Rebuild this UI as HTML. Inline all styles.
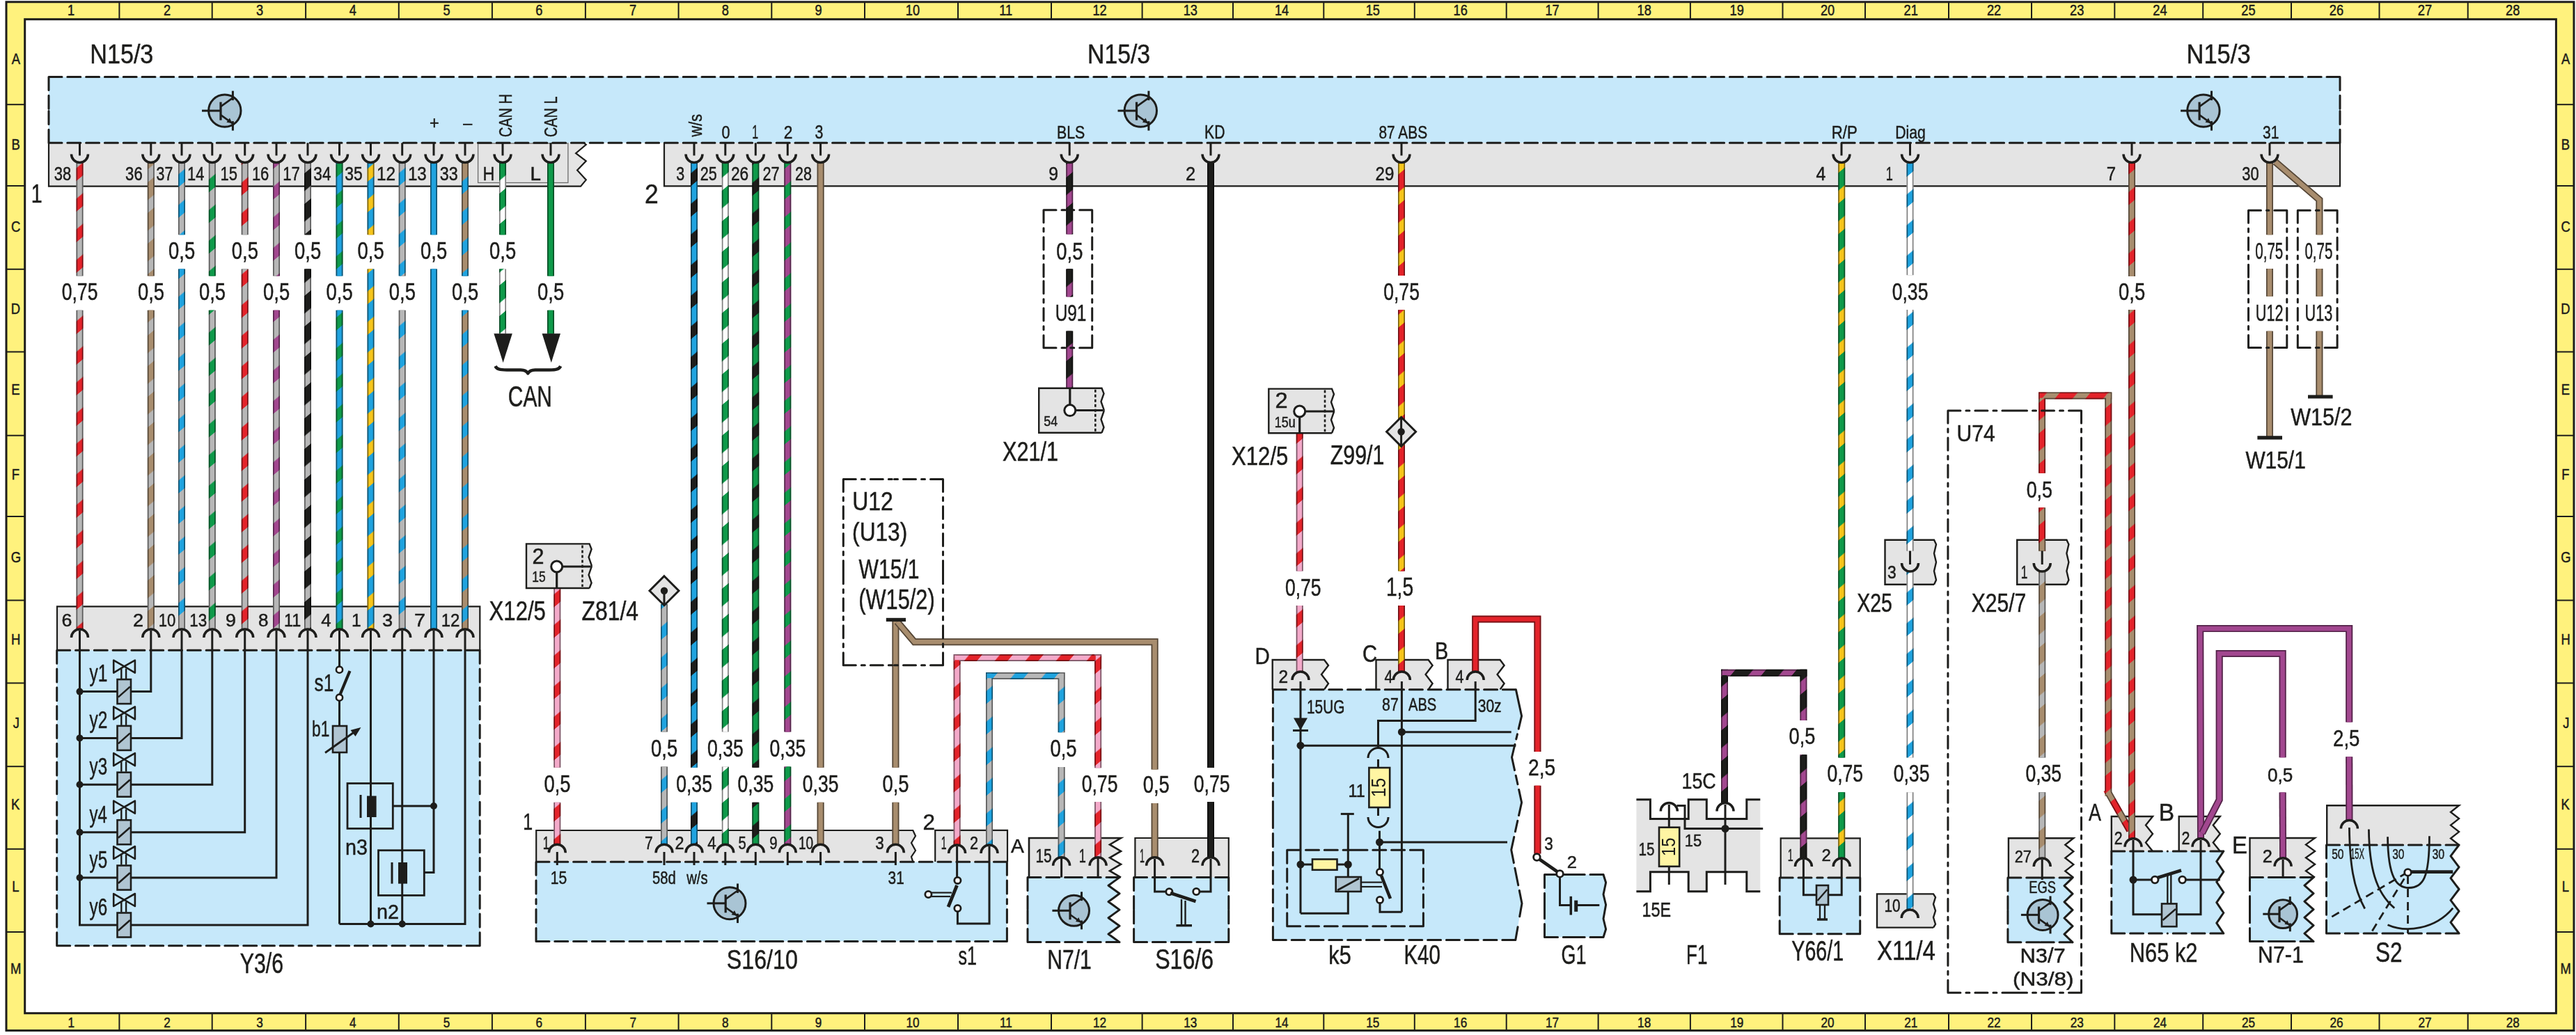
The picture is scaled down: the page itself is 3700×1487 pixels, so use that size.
<!DOCTYPE html><html><head><meta charset="utf-8"><style>html,body{margin:0;padding:0;background:#fff;}body{width:3700px;height:1487px;overflow:hidden;font-family:"Liberation Sans",sans-serif;}svg{display:block;}</style></head><body><svg width="3700" height="1487" viewBox="0 0 3700 1487" font-family="Liberation Sans, sans-serif"><defs><pattern id="pGYRDv" patternUnits="userSpaceOnUse" width="20" height="44" patternTransform="skewY(-40)"><rect width="20" height="44" fill="#b7b7b7"/><rect y="25.5" width="20" height="18.5" fill="#e3232a"/></pattern><pattern id="pBNGYv" patternUnits="userSpaceOnUse" width="20" height="44" patternTransform="skewY(-40)"><rect width="20" height="44" fill="#a88d6e"/><rect y="25.5" width="20" height="18.5" fill="#b7b7b7"/></pattern><pattern id="pGYBUv" patternUnits="userSpaceOnUse" width="20" height="44" patternTransform="skewY(-40)"><rect width="20" height="44" fill="#b7b7b7"/><rect y="25.5" width="20" height="18.5" fill="#1fa3df"/></pattern><pattern id="pGYGNv" patternUnits="userSpaceOnUse" width="20" height="44" patternTransform="skewY(-40)"><rect width="20" height="44" fill="#b7b7b7"/><rect y="25.5" width="20" height="18.5" fill="#0f9a4a"/></pattern><pattern id="pGYVTv" patternUnits="userSpaceOnUse" width="20" height="44" patternTransform="skewY(-40)"><rect width="20" height="44" fill="#b7b7b7"/><rect y="25.5" width="20" height="18.5" fill="#a2478f"/></pattern><pattern id="pBKGYv" patternUnits="userSpaceOnUse" width="20" height="44" patternTransform="skewY(-40)"><rect width="20" height="44" fill="#1d1d1b"/><rect y="25.5" width="20" height="18.5" fill="#b7b7b7"/></pattern><pattern id="pBUGNv" patternUnits="userSpaceOnUse" width="20" height="44" patternTransform="skewY(-40)"><rect width="20" height="44" fill="#1fa3df"/><rect y="25.5" width="20" height="18.5" fill="#0f9a4a"/></pattern><pattern id="pBUYEv" patternUnits="userSpaceOnUse" width="20" height="44" patternTransform="skewY(-40)"><rect width="20" height="44" fill="#1fa3df"/><rect y="25.5" width="20" height="18.5" fill="#f6c51b"/></pattern><pattern id="pBNBUv" patternUnits="userSpaceOnUse" width="20" height="44" patternTransform="skewY(-40)"><rect width="20" height="44" fill="#a88d6e"/><rect y="25.5" width="20" height="18.5" fill="#1fa3df"/></pattern><pattern id="pGNWHv" patternUnits="userSpaceOnUse" width="20" height="44" patternTransform="skewY(-40)"><rect width="20" height="44" fill="#0f9a4a"/><rect y="25.5" width="20" height="18.5" fill="#ffffff"/></pattern><pattern id="pPKRDv" patternUnits="userSpaceOnUse" width="20" height="44" patternTransform="skewY(-40)"><rect width="20" height="44" fill="#f3a9c9"/><rect y="25.5" width="20" height="18.5" fill="#e3232a"/></pattern><pattern id="pBUBKv" patternUnits="userSpaceOnUse" width="20" height="44" patternTransform="skewY(-40)"><rect width="20" height="44" fill="#1fa3df"/><rect y="25.5" width="20" height="18.5" fill="#1d1d1b"/></pattern><pattern id="pGNBKv" patternUnits="userSpaceOnUse" width="20" height="44" patternTransform="skewY(-40)"><rect width="20" height="44" fill="#0f9a4a"/><rect y="25.5" width="20" height="18.5" fill="#1d1d1b"/></pattern><pattern id="pVTGNv" patternUnits="userSpaceOnUse" width="20" height="44" patternTransform="skewY(-40)"><rect width="20" height="44" fill="#a2478f"/><rect y="25.5" width="20" height="18.5" fill="#0f9a4a"/></pattern><pattern id="pPKRDh" patternUnits="userSpaceOnUse" width="44" height="20" patternTransform="skewX(-40)"><rect width="44" height="20" fill="#f3a9c9"/><rect x="25.5" width="18.5" height="20" fill="#e3232a"/></pattern><pattern id="pGYBUh" patternUnits="userSpaceOnUse" width="44" height="20" patternTransform="skewX(-40)"><rect width="44" height="20" fill="#b7b7b7"/><rect x="25.5" width="18.5" height="20" fill="#1fa3df"/></pattern><pattern id="pBKVTv" patternUnits="userSpaceOnUse" width="20" height="44" patternTransform="skewY(-40)"><rect width="20" height="44" fill="#1d1d1b"/><rect y="25.5" width="20" height="18.5" fill="#a2478f"/></pattern><pattern id="pRDYEv" patternUnits="userSpaceOnUse" width="20" height="44" patternTransform="skewY(-40)"><rect width="20" height="44" fill="#e3232a"/><rect y="25.5" width="20" height="18.5" fill="#f6c51b"/></pattern><pattern id="pBKVTh" patternUnits="userSpaceOnUse" width="44" height="20" patternTransform="skewX(-40)"><rect width="44" height="20" fill="#1d1d1b"/><rect x="25.5" width="18.5" height="20" fill="#a2478f"/></pattern><pattern id="pGNYEv" patternUnits="userSpaceOnUse" width="20" height="44" patternTransform="skewY(-40)"><rect width="20" height="44" fill="#0f9a4a"/><rect y="25.5" width="20" height="18.5" fill="#f6c51b"/></pattern><pattern id="pWHBUv" patternUnits="userSpaceOnUse" width="20" height="44" patternTransform="skewY(-40)"><rect width="20" height="44" fill="#ffffff"/><rect y="25.5" width="20" height="18.5" fill="#1fa3df"/></pattern><pattern id="pRDBNv" patternUnits="userSpaceOnUse" width="20" height="44" patternTransform="skewY(-40)"><rect width="20" height="44" fill="#e3232a"/><rect y="25.5" width="20" height="18.5" fill="#a88d6e"/></pattern><pattern id="pRDBNh" patternUnits="userSpaceOnUse" width="44" height="20" patternTransform="skewX(-40)"><rect width="44" height="20" fill="#e3232a"/><rect x="25.5" width="18.5" height="20" fill="#a88d6e"/></pattern><pattern id="pBNRDv" patternUnits="userSpaceOnUse" width="20" height="44" patternTransform="skewY(-40)"><rect width="20" height="44" fill="#a88d6e"/><rect y="25.5" width="20" height="18.5" fill="#e3232a"/></pattern></defs><rect width="3700" height="1487" fill="#fff"/><rect x="9" y="2.8" width="3688" height="1477.8" fill="#fff27d" stroke="#1d1d1b" stroke-width="3" />
<rect x="35.7" y="27.7" width="3635.7" height="1428" fill="#fff" stroke="#1d1d1b" stroke-width="3" />
<line x1="171.4" y1="2.8" x2="171.4" y2="27.7" stroke="#1d1d1b" stroke-width="2" />
<line x1="171.4" y1="1455.7" x2="171.4" y2="1480.6" stroke="#1d1d1b" stroke-width="2" />
<line x1="304.7" y1="2.8" x2="304.7" y2="27.7" stroke="#1d1d1b" stroke-width="2" />
<line x1="304.7" y1="1455.7" x2="304.7" y2="1480.6" stroke="#1d1d1b" stroke-width="2" />
<line x1="439.1" y1="2.8" x2="439.1" y2="27.7" stroke="#1d1d1b" stroke-width="2" />
<line x1="439.1" y1="1455.7" x2="439.1" y2="1480.6" stroke="#1d1d1b" stroke-width="2" />
<line x1="572.8" y1="2.8" x2="572.8" y2="27.7" stroke="#1d1d1b" stroke-width="2" />
<line x1="572.8" y1="1455.7" x2="572.8" y2="1480.6" stroke="#1d1d1b" stroke-width="2" />
<line x1="706.9" y1="2.8" x2="706.9" y2="27.7" stroke="#1d1d1b" stroke-width="2" />
<line x1="706.9" y1="1455.7" x2="706.9" y2="1480.6" stroke="#1d1d1b" stroke-width="2" />
<line x1="840.9" y1="2.8" x2="840.9" y2="27.7" stroke="#1d1d1b" stroke-width="2" />
<line x1="840.9" y1="1455.7" x2="840.9" y2="1480.6" stroke="#1d1d1b" stroke-width="2" />
<line x1="974.6" y1="2.8" x2="974.6" y2="27.7" stroke="#1d1d1b" stroke-width="2" />
<line x1="974.6" y1="1455.7" x2="974.6" y2="1480.6" stroke="#1d1d1b" stroke-width="2" />
<line x1="1108.3" y1="2.8" x2="1108.3" y2="27.7" stroke="#1d1d1b" stroke-width="2" />
<line x1="1108.3" y1="1455.7" x2="1108.3" y2="1480.6" stroke="#1d1d1b" stroke-width="2" />
<line x1="1242" y1="2.8" x2="1242" y2="27.7" stroke="#1d1d1b" stroke-width="2" />
<line x1="1242" y1="1455.7" x2="1242" y2="1480.6" stroke="#1d1d1b" stroke-width="2" />
<line x1="1376" y1="2.8" x2="1376" y2="27.7" stroke="#1d1d1b" stroke-width="2" />
<line x1="1376" y1="1455.7" x2="1376" y2="1480.6" stroke="#1d1d1b" stroke-width="2" />
<line x1="1510" y1="2.8" x2="1510" y2="27.7" stroke="#1d1d1b" stroke-width="2" />
<line x1="1510" y1="1455.7" x2="1510" y2="1480.6" stroke="#1d1d1b" stroke-width="2" />
<line x1="1640.6" y1="2.8" x2="1640.6" y2="27.7" stroke="#1d1d1b" stroke-width="2" />
<line x1="1640.6" y1="1455.7" x2="1640.6" y2="1480.6" stroke="#1d1d1b" stroke-width="2" />
<line x1="1771" y1="2.8" x2="1771" y2="27.7" stroke="#1d1d1b" stroke-width="2" />
<line x1="1771" y1="1455.7" x2="1771" y2="1480.6" stroke="#1d1d1b" stroke-width="2" />
<line x1="1901.3" y1="2.8" x2="1901.3" y2="27.7" stroke="#1d1d1b" stroke-width="2" />
<line x1="1901.3" y1="1455.7" x2="1901.3" y2="1480.6" stroke="#1d1d1b" stroke-width="2" />
<line x1="2031.8" y1="2.8" x2="2031.8" y2="27.7" stroke="#1d1d1b" stroke-width="2" />
<line x1="2031.8" y1="1455.7" x2="2031.8" y2="1480.6" stroke="#1d1d1b" stroke-width="2" />
<line x1="2163.7" y1="2.8" x2="2163.7" y2="27.7" stroke="#1d1d1b" stroke-width="2" />
<line x1="2163.7" y1="1455.7" x2="2163.7" y2="1480.6" stroke="#1d1d1b" stroke-width="2" />
<line x1="2295.6" y1="2.8" x2="2295.6" y2="27.7" stroke="#1d1d1b" stroke-width="2" />
<line x1="2295.6" y1="1455.7" x2="2295.6" y2="1480.6" stroke="#1d1d1b" stroke-width="2" />
<line x1="2427.9" y1="2.8" x2="2427.9" y2="27.7" stroke="#1d1d1b" stroke-width="2" />
<line x1="2427.9" y1="1455.7" x2="2427.9" y2="1480.6" stroke="#1d1d1b" stroke-width="2" />
<line x1="2560.5" y1="2.8" x2="2560.5" y2="27.7" stroke="#1d1d1b" stroke-width="2" />
<line x1="2560.5" y1="1455.7" x2="2560.5" y2="1480.6" stroke="#1d1d1b" stroke-width="2" />
<line x1="2679" y1="2.8" x2="2679" y2="27.7" stroke="#1d1d1b" stroke-width="2" />
<line x1="2679" y1="1455.7" x2="2679" y2="1480.6" stroke="#1d1d1b" stroke-width="2" />
<line x1="2799" y1="2.8" x2="2799" y2="27.7" stroke="#1d1d1b" stroke-width="2" />
<line x1="2799" y1="1455.7" x2="2799" y2="1480.6" stroke="#1d1d1b" stroke-width="2" />
<line x1="2918" y1="2.8" x2="2918" y2="27.7" stroke="#1d1d1b" stroke-width="2" />
<line x1="2918" y1="1455.7" x2="2918" y2="1480.6" stroke="#1d1d1b" stroke-width="2" />
<line x1="3037.3" y1="2.8" x2="3037.3" y2="27.7" stroke="#1d1d1b" stroke-width="2" />
<line x1="3037.3" y1="1455.7" x2="3037.3" y2="1480.6" stroke="#1d1d1b" stroke-width="2" />
<line x1="3164.2" y1="2.8" x2="3164.2" y2="27.7" stroke="#1d1d1b" stroke-width="2" />
<line x1="3164.2" y1="1455.7" x2="3164.2" y2="1480.6" stroke="#1d1d1b" stroke-width="2" />
<line x1="3291" y1="2.8" x2="3291" y2="27.7" stroke="#1d1d1b" stroke-width="2" />
<line x1="3291" y1="1455.7" x2="3291" y2="1480.6" stroke="#1d1d1b" stroke-width="2" />
<line x1="3417.5" y1="2.8" x2="3417.5" y2="27.7" stroke="#1d1d1b" stroke-width="2" />
<line x1="3417.5" y1="1455.7" x2="3417.5" y2="1480.6" stroke="#1d1d1b" stroke-width="2" />
<line x1="3544.7" y1="2.8" x2="3544.7" y2="27.7" stroke="#1d1d1b" stroke-width="2" />
<line x1="3544.7" y1="1455.7" x2="3544.7" y2="1480.6" stroke="#1d1d1b" stroke-width="2" />
<line x1="9" y1="150.2" x2="35.7" y2="150.2" stroke="#1d1d1b" stroke-width="2" />
<line x1="3671.4" y1="150.2" x2="3697" y2="150.2" stroke="#1d1d1b" stroke-width="2" />
<line x1="9" y1="267" x2="35.7" y2="267" stroke="#1d1d1b" stroke-width="2" />
<line x1="3671.4" y1="267" x2="3697" y2="267" stroke="#1d1d1b" stroke-width="2" />
<line x1="9" y1="386.8" x2="35.7" y2="386.8" stroke="#1d1d1b" stroke-width="2" />
<line x1="3671.4" y1="386.8" x2="3697" y2="386.8" stroke="#1d1d1b" stroke-width="2" />
<line x1="9" y1="505.5" x2="35.7" y2="505.5" stroke="#1d1d1b" stroke-width="2" />
<line x1="3671.4" y1="505.5" x2="3697" y2="505.5" stroke="#1d1d1b" stroke-width="2" />
<line x1="9" y1="625.7" x2="35.7" y2="625.7" stroke="#1d1d1b" stroke-width="2" />
<line x1="3671.4" y1="625.7" x2="3697" y2="625.7" stroke="#1d1d1b" stroke-width="2" />
<line x1="9" y1="742" x2="35.7" y2="742" stroke="#1d1d1b" stroke-width="2" />
<line x1="3671.4" y1="742" x2="3697" y2="742" stroke="#1d1d1b" stroke-width="2" />
<line x1="9" y1="862.5" x2="35.7" y2="862.5" stroke="#1d1d1b" stroke-width="2" />
<line x1="3671.4" y1="862.5" x2="3697" y2="862.5" stroke="#1d1d1b" stroke-width="2" />
<line x1="9" y1="981.4" x2="35.7" y2="981.4" stroke="#1d1d1b" stroke-width="2" />
<line x1="3671.4" y1="981.4" x2="3697" y2="981.4" stroke="#1d1d1b" stroke-width="2" />
<line x1="9" y1="1101.2" x2="35.7" y2="1101.2" stroke="#1d1d1b" stroke-width="2" />
<line x1="3671.4" y1="1101.2" x2="3697" y2="1101.2" stroke="#1d1d1b" stroke-width="2" />
<line x1="9" y1="1219.8" x2="35.7" y2="1219.8" stroke="#1d1d1b" stroke-width="2" />
<line x1="3671.4" y1="1219.8" x2="3697" y2="1219.8" stroke="#1d1d1b" stroke-width="2" />
<line x1="9" y1="1339" x2="35.7" y2="1339" stroke="#1d1d1b" stroke-width="2" />
<line x1="3671.4" y1="1339" x2="3697" y2="1339" stroke="#1d1d1b" stroke-width="2" />
<text transform="translate(97.1 22) scale(0.860 1)" font-size="21.2" fill="#1d1d1b" stroke="#1d1d1b" stroke-width="0.5">1</text>
<text transform="translate(97.4 1475.8) scale(0.860 1)" font-size="20" fill="#1d1d1b" stroke="#1d1d1b" stroke-width="0.5">1</text>
<text transform="translate(234.9 22) scale(0.860 1)" font-size="21.2" fill="#1d1d1b" stroke="#1d1d1b" stroke-width="0.5">2</text>
<text transform="translate(235.2 1475.8) scale(0.860 1)" font-size="20" fill="#1d1d1b" stroke="#1d1d1b" stroke-width="0.5">2</text>
<text transform="translate(368 22) scale(0.860 1)" font-size="21.2" fill="#1d1d1b" stroke="#1d1d1b" stroke-width="0.5">3</text>
<text transform="translate(368.3 1475.8) scale(0.860 1)" font-size="20" fill="#1d1d1b" stroke="#1d1d1b" stroke-width="0.5">3</text>
<text transform="translate(501.7 22) scale(0.860 1)" font-size="21.2" fill="#1d1d1b" stroke="#1d1d1b" stroke-width="0.5">4</text>
<text transform="translate(502 1475.8) scale(0.860 1)" font-size="20" fill="#1d1d1b" stroke="#1d1d1b" stroke-width="0.5">4</text>
<text transform="translate(636.4 22) scale(0.860 1)" font-size="21.2" fill="#1d1d1b" stroke="#1d1d1b" stroke-width="0.5">5</text>
<text transform="translate(636.7 1475.8) scale(0.860 1)" font-size="20" fill="#1d1d1b" stroke="#1d1d1b" stroke-width="0.5">5</text>
<text transform="translate(769.2 22) scale(0.860 1)" font-size="21.2" fill="#1d1d1b" stroke="#1d1d1b" stroke-width="0.5">6</text>
<text transform="translate(769.5 1475.8) scale(0.860 1)" font-size="20" fill="#1d1d1b" stroke="#1d1d1b" stroke-width="0.5">6</text>
<text transform="translate(904.1 22) scale(0.860 1)" font-size="21.2" fill="#1d1d1b" stroke="#1d1d1b" stroke-width="0.5">7</text>
<text transform="translate(904.4 1475.8) scale(0.860 1)" font-size="20" fill="#1d1d1b" stroke="#1d1d1b" stroke-width="0.5">7</text>
<text transform="translate(1036.7 22) scale(0.860 1)" font-size="21.2" fill="#1d1d1b" stroke="#1d1d1b" stroke-width="0.5">8</text>
<text transform="translate(1037 1475.8) scale(0.860 1)" font-size="20" fill="#1d1d1b" stroke="#1d1d1b" stroke-width="0.5">8</text>
<text transform="translate(1170.5 22) scale(0.860 1)" font-size="21.2" fill="#1d1d1b" stroke="#1d1d1b" stroke-width="0.5">9</text>
<text transform="translate(1170.8 1475.8) scale(0.860 1)" font-size="20" fill="#1d1d1b" stroke="#1d1d1b" stroke-width="0.5">9</text>
<text transform="translate(1300.8 22) scale(0.860 1)" font-size="21.2" fill="#1d1d1b" stroke="#1d1d1b" stroke-width="0.5">10</text>
<text transform="translate(1301.4 1475.8) scale(0.860 1)" font-size="20" fill="#1d1d1b" stroke="#1d1d1b" stroke-width="0.5">10</text>
<text transform="translate(1435.3 22) scale(0.860 1)" font-size="21.2" fill="#1d1d1b" stroke="#1d1d1b" stroke-width="0.5">11</text>
<text transform="translate(1435.9 1475.8) scale(0.860 1)" font-size="20" fill="#1d1d1b" stroke="#1d1d1b" stroke-width="0.5">11</text>
<text transform="translate(1569.4 22) scale(0.860 1)" font-size="21.2" fill="#1d1d1b" stroke="#1d1d1b" stroke-width="0.5">12</text>
<text transform="translate(1570 1475.8) scale(0.860 1)" font-size="20" fill="#1d1d1b" stroke="#1d1d1b" stroke-width="0.5">12</text>
<text transform="translate(1699.7 22) scale(0.860 1)" font-size="21.2" fill="#1d1d1b" stroke="#1d1d1b" stroke-width="0.5">13</text>
<text transform="translate(1700.3 1475.8) scale(0.860 1)" font-size="20" fill="#1d1d1b" stroke="#1d1d1b" stroke-width="0.5">13</text>
<text transform="translate(1830.9 22) scale(0.860 1)" font-size="21.2" fill="#1d1d1b" stroke="#1d1d1b" stroke-width="0.5">14</text>
<text transform="translate(1831.5 1475.8) scale(0.860 1)" font-size="20" fill="#1d1d1b" stroke="#1d1d1b" stroke-width="0.5">14</text>
<text transform="translate(1961.7 22) scale(0.860 1)" font-size="21.2" fill="#1d1d1b" stroke="#1d1d1b" stroke-width="0.5">15</text>
<text transform="translate(1962.3 1475.8) scale(0.860 1)" font-size="20" fill="#1d1d1b" stroke="#1d1d1b" stroke-width="0.5">15</text>
<text transform="translate(2087.5 22) scale(0.860 1)" font-size="21.2" fill="#1d1d1b" stroke="#1d1d1b" stroke-width="0.5">16</text>
<text transform="translate(2088.1 1475.8) scale(0.860 1)" font-size="20" fill="#1d1d1b" stroke="#1d1d1b" stroke-width="0.5">16</text>
<text transform="translate(2219.4 22) scale(0.860 1)" font-size="21.2" fill="#1d1d1b" stroke="#1d1d1b" stroke-width="0.5">17</text>
<text transform="translate(2220 1475.8) scale(0.860 1)" font-size="20" fill="#1d1d1b" stroke="#1d1d1b" stroke-width="0.5">17</text>
<text transform="translate(2351.5 22) scale(0.860 1)" font-size="21.2" fill="#1d1d1b" stroke="#1d1d1b" stroke-width="0.5">18</text>
<text transform="translate(2352.1 1475.8) scale(0.860 1)" font-size="20" fill="#1d1d1b" stroke="#1d1d1b" stroke-width="0.5">18</text>
<text transform="translate(2484.6 22) scale(0.860 1)" font-size="21.2" fill="#1d1d1b" stroke="#1d1d1b" stroke-width="0.5">19</text>
<text transform="translate(2485.2 1475.8) scale(0.860 1)" font-size="20" fill="#1d1d1b" stroke="#1d1d1b" stroke-width="0.5">19</text>
<text transform="translate(2614.9 22) scale(0.860 1)" font-size="21.2" fill="#1d1d1b" stroke="#1d1d1b" stroke-width="0.5">20</text>
<text transform="translate(2615.5 1475.8) scale(0.860 1)" font-size="20" fill="#1d1d1b" stroke="#1d1d1b" stroke-width="0.5">20</text>
<text transform="translate(2734.6 22) scale(0.860 1)" font-size="21.2" fill="#1d1d1b" stroke="#1d1d1b" stroke-width="0.5">21</text>
<text transform="translate(2735.2 1475.8) scale(0.860 1)" font-size="20" fill="#1d1d1b" stroke="#1d1d1b" stroke-width="0.5">21</text>
<text transform="translate(2853.9 22) scale(0.860 1)" font-size="21.2" fill="#1d1d1b" stroke="#1d1d1b" stroke-width="0.5">22</text>
<text transform="translate(2854.5 1475.8) scale(0.860 1)" font-size="20" fill="#1d1d1b" stroke="#1d1d1b" stroke-width="0.5">22</text>
<text transform="translate(2973.1 22) scale(0.860 1)" font-size="21.2" fill="#1d1d1b" stroke="#1d1d1b" stroke-width="0.5">23</text>
<text transform="translate(2973.7 1475.8) scale(0.860 1)" font-size="20" fill="#1d1d1b" stroke="#1d1d1b" stroke-width="0.5">23</text>
<text transform="translate(3092.3 22) scale(0.860 1)" font-size="21.2" fill="#1d1d1b" stroke="#1d1d1b" stroke-width="0.5">24</text>
<text transform="translate(3092.9 1475.8) scale(0.860 1)" font-size="20" fill="#1d1d1b" stroke="#1d1d1b" stroke-width="0.5">24</text>
<text transform="translate(3219.3 22) scale(0.860 1)" font-size="21.2" fill="#1d1d1b" stroke="#1d1d1b" stroke-width="0.5">25</text>
<text transform="translate(3219.9 1475.8) scale(0.860 1)" font-size="20" fill="#1d1d1b" stroke="#1d1d1b" stroke-width="0.5">25</text>
<text transform="translate(3345.8 22) scale(0.860 1)" font-size="21.2" fill="#1d1d1b" stroke="#1d1d1b" stroke-width="0.5">26</text>
<text transform="translate(3346.4 1475.8) scale(0.860 1)" font-size="20" fill="#1d1d1b" stroke="#1d1d1b" stroke-width="0.5">26</text>
<text transform="translate(3472.8 22) scale(0.860 1)" font-size="21.2" fill="#1d1d1b" stroke="#1d1d1b" stroke-width="0.5">27</text>
<text transform="translate(3473.4 1475.8) scale(0.860 1)" font-size="20" fill="#1d1d1b" stroke="#1d1d1b" stroke-width="0.5">27</text>
<text transform="translate(3599.1 22) scale(0.860 1)" font-size="21.2" fill="#1d1d1b" stroke="#1d1d1b" stroke-width="0.5">28</text>
<text transform="translate(3599.7 1475.8) scale(0.860 1)" font-size="20" fill="#1d1d1b" stroke="#1d1d1b" stroke-width="0.5">28</text>
<text transform="translate(16.7 91.8) scale(0.860 1)" font-size="21.5" fill="#1d1d1b" stroke="#1d1d1b" stroke-width="0.5">A</text>
<text transform="translate(3679.1 91.8) scale(0.860 1)" font-size="21.5" fill="#1d1d1b" stroke="#1d1d1b" stroke-width="0.5">A</text>
<text transform="translate(16.4 214.6) scale(0.860 1)" font-size="21.5" fill="#1d1d1b" stroke="#1d1d1b" stroke-width="0.5">B</text>
<text transform="translate(3678.8 214.6) scale(0.860 1)" font-size="21.5" fill="#1d1d1b" stroke="#1d1d1b" stroke-width="0.5">B</text>
<text transform="translate(16 333.4) scale(0.860 1)" font-size="21.5" fill="#1d1d1b" stroke="#1d1d1b" stroke-width="0.5">C</text>
<text transform="translate(3678.5 333.4) scale(0.860 1)" font-size="21.5" fill="#1d1d1b" stroke="#1d1d1b" stroke-width="0.5">C</text>
<text transform="translate(15.8 451.3) scale(0.860 1)" font-size="21.5" fill="#1d1d1b" stroke="#1d1d1b" stroke-width="0.5">D</text>
<text transform="translate(3678.3 451.3) scale(0.860 1)" font-size="21.5" fill="#1d1d1b" stroke="#1d1d1b" stroke-width="0.5">D</text>
<text transform="translate(16.3 567.3) scale(0.860 1)" font-size="21.5" fill="#1d1d1b" stroke="#1d1d1b" stroke-width="0.5">E</text>
<text transform="translate(3678.7 567.3) scale(0.860 1)" font-size="21.5" fill="#1d1d1b" stroke="#1d1d1b" stroke-width="0.5">E</text>
<text transform="translate(16.7 688.5) scale(0.860 1)" font-size="21.5" fill="#1d1d1b" stroke="#1d1d1b" stroke-width="0.5">F</text>
<text transform="translate(3679.2 688.5) scale(0.860 1)" font-size="21.5" fill="#1d1d1b" stroke="#1d1d1b" stroke-width="0.5">F</text>
<text transform="translate(15.8 807.8) scale(0.860 1)" font-size="21.5" fill="#1d1d1b" stroke="#1d1d1b" stroke-width="0.5">G</text>
<text transform="translate(3678.3 807.8) scale(0.860 1)" font-size="21.5" fill="#1d1d1b" stroke="#1d1d1b" stroke-width="0.5">G</text>
<text transform="translate(16.1 926.3) scale(0.860 1)" font-size="21.5" fill="#1d1d1b" stroke="#1d1d1b" stroke-width="0.5">H</text>
<text transform="translate(3678.6 926.3) scale(0.860 1)" font-size="21.5" fill="#1d1d1b" stroke="#1d1d1b" stroke-width="0.5">H</text>
<text transform="translate(18.8 1045.6) scale(0.860 1)" font-size="21.5" fill="#1d1d1b" stroke="#1d1d1b" stroke-width="0.5">J</text>
<text transform="translate(3681.2 1045.6) scale(0.860 1)" font-size="21.5" fill="#1d1d1b" stroke="#1d1d1b" stroke-width="0.5">J</text>
<text transform="translate(16 1163.3) scale(0.860 1)" font-size="21.5" fill="#1d1d1b" stroke="#1d1d1b" stroke-width="0.5">K</text>
<text transform="translate(3678.5 1163.3) scale(0.860 1)" font-size="21.5" fill="#1d1d1b" stroke="#1d1d1b" stroke-width="0.5">K</text>
<text transform="translate(17.2 1281) scale(0.860 1)" font-size="21.5" fill="#1d1d1b" stroke="#1d1d1b" stroke-width="0.5">L</text>
<text transform="translate(3679.7 1281) scale(0.860 1)" font-size="21.5" fill="#1d1d1b" stroke="#1d1d1b" stroke-width="0.5">L</text>
<text transform="translate(15.1 1398.6) scale(0.860 1)" font-size="21.5" fill="#1d1d1b" stroke="#1d1d1b" stroke-width="0.5">M</text>
<text transform="translate(3677.5 1398.6) scale(0.860 1)" font-size="21.5" fill="#1d1d1b" stroke="#1d1d1b" stroke-width="0.5">M</text>
<rect x="70" y="110.4" width="3291" height="94.9" fill="#c6e8fa" stroke="none" stroke-width="2" />
<polygon points="70,205.3 838.7,205.3 841.8,207.8 827.1,220.1 841.8,231.3 829.1,244.5 841.8,258.4 834.1,267.6 70,267.6" fill="#e4e4e4" stroke="none" stroke-width="2" />
<polyline points="70,205.3 70,267.6 834.1,267.6 834.1,267.6 841.8,258.4 829.1,244.5 841.8,231.3 827.1,220.1 841.8,207.8 838.7,205.3" fill="none" stroke="#1d1d1b" stroke-width="2.2" stroke-linejoin="miter" />
<rect x="686.6" y="206" width="129.3" height="56.5" fill="none" stroke="#6b6b6b" stroke-width="1.3" />
<rect x="954" y="205.3" width="2407" height="62.1" fill="#e4e4e4" stroke="none" stroke-width="2" />
<polyline points="954,205.3 954,267.4 3361,267.4 3361,205.3" fill="none" stroke="#1d1d1b" stroke-width="2.2" stroke-linejoin="miter" />
<path d="M70,110.4 L1715.5,110.4 M3361,110.4 L1715.5,110.4 M3361,110.4 L3361,157.9 M3361,205.3 L3361,157.9 M3361,205.3 L1715.5,205.3 M70,205.3 L1715.5,205.3 M70,205.3 L70,157.9 M70,110.4 L70,157.9" fill="none" stroke="#1d1d1b" stroke-width="3" stroke-dasharray="19 7.8" stroke-linecap="round"/>
<rect x="82" y="871.3" width="607.3" height="62.9" fill="#e4e4e4" stroke="none" stroke-width="2" />
<polyline points="82,934.2 82,871.3 689.3,871.3 689.3,934.2" fill="none" stroke="#1d1d1b" stroke-width="2.2" stroke-linejoin="miter" />
<rect x="81.7" y="934.2" width="607.5" height="424.6" fill="#c6e8fa" stroke="none" stroke-width="2" />
<path d="M81.7,934.2 L385.5,934.2 M689.2,934.2 L385.5,934.2 M689.2,934.2 L689.2,1146.5 M689.2,1358.8 L689.2,1146.5 M689.2,1358.8 L385.5,1358.8 M81.7,1358.8 L385.5,1358.8 M81.7,1358.8 L81.7,1146.5 M81.7,934.2 L81.7,1146.5" fill="none" stroke="#1d1d1b" stroke-width="3" stroke-dasharray="19 7.8" stroke-linecap="round"/>
<polygon points="770.2,1193 1311.3,1193 1315,1201 1309,1211 1315,1222 1309,1231 1311.3,1238.2 770.2,1238.2" fill="#e4e4e4" stroke="none" stroke-width="2" />
<polyline points="770.2,1238.2 770.2,1193 1311.3,1193 1315,1201 1309,1211 1315,1222 1309,1231 1311.3,1238.2" fill="none" stroke="#1d1d1b" stroke-width="2.2" stroke-linejoin="miter" />
<rect x="1343.2" y="1192.8" width="103.8" height="45.2" fill="#e4e4e4" stroke="none" stroke-width="2" />
<polyline points="1343.2,1238 1343.2,1192.8 1447,1192.8 1447,1238" fill="none" stroke="#1d1d1b" stroke-width="2.2" stroke-linejoin="miter" />
<rect x="770" y="1238.2" width="676.4" height="114.2" fill="#c6e8fa" stroke="none" stroke-width="2" />
<path d="M770,1238.2 L1108.2,1238.2 M1446.4,1238.2 L1108.2,1238.2 M1446.4,1238.2 L1446.4,1295.3 M1446.4,1352.4 L1446.4,1295.3 M1446.4,1352.4 L1108.2,1352.4 M770,1352.4 L1108.2,1352.4 M770,1352.4 L770,1295.3 M770,1238.2 L770,1295.3" fill="none" stroke="#1d1d1b" stroke-width="3" stroke-dasharray="19 7.8" stroke-linecap="round"/>
<polygon points="1478,1204 1610,1204 1594,1213.4 1610,1222.9 1594,1232.3 1610,1241.7 1594,1251.2 1610,1260.6 1478,1260.6" fill="#e4e4e4" stroke="none" stroke-width="2" />
<polyline points="1478,1260.6 1478,1204 1610,1204 1594,1213.4 1610,1222.9 1594,1232.3 1610,1241.7 1594,1251.2 1610,1260.6" fill="none" stroke="#1d1d1b" stroke-width="2.6" stroke-linejoin="miter" />
<polygon points="1476,1260.6 1608,1260.6 1592,1272.2 1608,1283.8 1592,1295.5 1608,1307.1 1592,1318.7 1608,1330.3 1592,1342 1608,1353.6 1476,1353.6" fill="#c6e8fa" stroke="none" stroke-width="2" />
<path d="M1476,1260.6 L1542,1260.6 M1608,1260.6 L1542,1260.6 M1608,1260.6 L1600,1266.4 M1592,1272.2 L1600,1266.4 M1592,1272.2 L1600,1278 M1608,1283.8 L1600,1278 M1608,1283.8 L1600,1289.7 M1592,1295.5 L1600,1289.7 M1592,1295.5 L1600,1301.3 M1608,1307.1 L1600,1301.3 M1608,1307.1 L1600,1312.9 M1592,1318.7 L1600,1312.9 M1592,1318.7 L1600,1324.5 M1608,1330.3 L1600,1324.5 M1608,1330.3 L1600,1336.2 M1592,1342 L1600,1336.2 M1592,1342 L1600,1347.8 M1608,1353.6 L1600,1347.8 M1608,1353.6 L1542,1353.6 M1476,1353.6 L1542,1353.6 M1476,1353.6 L1476,1307.1 M1476,1260.6 L1476,1307.1" fill="none" stroke="#1d1d1b" stroke-width="3" stroke-dasharray="19 7.8" stroke-linecap="round"/>
<rect x="1630.4" y="1204" width="134.4" height="56.6" fill="#e4e4e4" stroke="none" stroke-width="2" />
<polyline points="1630.4,1260.6 1630.4,1204 1764.8,1204 1764.8,1260.6" fill="none" stroke="#1d1d1b" stroke-width="2.2" stroke-linejoin="miter" />
<rect x="1628.6" y="1260.6" width="136.2" height="93" fill="#c6e8fa" stroke="none" stroke-width="2" />
<path d="M1628.6,1260.6 L1696.7,1260.6 M1764.8,1260.6 L1696.7,1260.6 M1764.8,1260.6 L1764.8,1307.1 M1764.8,1353.6 L1764.8,1307.1 M1764.8,1353.6 L1696.7,1353.6 M1628.6,1353.6 L1696.7,1353.6 M1628.6,1353.6 L1628.6,1307.1 M1628.6,1260.6 L1628.6,1307.1" fill="none" stroke="#1d1d1b" stroke-width="3" stroke-dasharray="19 7.8" stroke-linecap="round"/>
<polygon points="1827.7,948 1902,948 1908,956 1898,969 1908,982 1902,990.8 1827.7,990.8" fill="#e4e4e4" stroke="none" stroke-width="2" />
<polyline points="1827.7,990.8 1827.7,948 1902,948 1908,956 1898,969 1908,982 1902,990.8" fill="none" stroke="#1d1d1b" stroke-width="2.4" stroke-linejoin="miter" />
<polygon points="1976.5,948 2051.6,948 2057.6,956 2047.6,969 2057.6,982 2051.6,990.8 1976.5,990.8" fill="#e4e4e4" stroke="none" stroke-width="2" />
<polyline points="1976.5,990.8 1976.5,948 2051.6,948 2057.6,956 2047.6,969 2057.6,982 2051.6,990.8" fill="none" stroke="#1d1d1b" stroke-width="2.4" stroke-linejoin="miter" />
<polygon points="2079.5,948 2154.6,948 2160.6,956 2150.6,969 2160.6,982 2154.6,990.8 2079.5,990.8" fill="#e4e4e4" stroke="none" stroke-width="2" />
<polyline points="2079.5,990.8 2079.5,948 2154.6,948 2160.6,956 2150.6,969 2160.6,982 2154.6,990.8" fill="none" stroke="#1d1d1b" stroke-width="2.4" stroke-linejoin="miter" />
<polygon points="1828.4,990.8 2177.4,990.8 2185.6,1028.7 2171.5,1088 2185.6,1153 2170.7,1221 2186,1298 2176.8,1350.4 1828.4,1350.4" fill="#c6e8fa" stroke="none" stroke-width="2" />
<path d="M1828.4,1350.4 L1828.4,1170.6 M1828.4,990.8 L1828.4,1170.6 M1828.4,990.8 L2002.9,990.8 M2177.4,990.8 L2002.9,990.8 M2177.4,990.8 L2181.5,1009.8 M2185.6,1028.7 L2181.5,1009.8 M2185.6,1028.7 L2178.6,1058.3 M2171.5,1088 L2178.6,1058.3 M2171.5,1088 L2178.6,1120.5 M2185.6,1153 L2178.6,1120.5 M2185.6,1153 L2178.1,1187 M2170.7,1221 L2178.1,1187 M2170.7,1221 L2178.3,1259.5 M2186,1298 L2178.3,1259.5 M2186,1298 L2181.4,1324.2 M2176.8,1350.4 L2181.4,1324.2 M2176.8,1350.4 L2002.6,1350.4 M1828.4,1350.4 L2002.6,1350.4" fill="none" stroke="#1d1d1b" stroke-width="3" stroke-dasharray="19 7.8" stroke-linecap="round"/>
<polygon points="2350.4,1148.8 2370.4,1148.8 2370.4,1176.5 2425.2,1176.5 2425.2,1148.8 2451.3,1148.8 2451.3,1176.5 2508.8,1176.5 2508.8,1148.8 2528.3,1148.8 2528.3,1280.8 2508.8,1280.8 2508.8,1252.7 2451.3,1252.7 2451.3,1280.8 2425.2,1280.8 2425.2,1252.7 2370.4,1252.7 2370.4,1280.8 2350.4,1280.8" fill="#e4e4e4" stroke="none" stroke-width="2" />
<polyline points="2350.4,1148.8 2370.4,1148.8 2370.4,1176.5 2425.2,1176.5 2425.2,1148.8 2451.3,1148.8 2451.3,1176.5 2508.8,1176.5 2508.8,1148.8 2528.3,1148.8" fill="none" stroke="#1d1d1b" stroke-width="3" stroke-linejoin="miter" />
<polyline points="2350.4,1280.8 2370.4,1280.8 2370.4,1252.7 2425.2,1252.7 2425.2,1280.8 2451.3,1280.8 2451.3,1252.7 2508.8,1252.7 2508.8,1280.8 2528.3,1280.8" fill="none" stroke="#1d1d1b" stroke-width="3" stroke-linejoin="miter" />
<rect x="2557.7" y="1204.3" width="114" height="56.7" fill="#e4e4e4" stroke="none" stroke-width="2" />
<polyline points="2557.7,1261 2557.7,1204.3 2671.7,1204.3 2671.7,1261" fill="none" stroke="#1d1d1b" stroke-width="2.2" stroke-linejoin="miter" />
<rect x="2556.2" y="1261" width="115.5" height="80.8" fill="#c6e8fa" stroke="none" stroke-width="2" />
<path d="M2556.2,1261 L2613.9,1261 M2671.7,1261 L2613.9,1261 M2671.7,1261 L2671.7,1301.4 M2671.7,1341.8 L2671.7,1301.4 M2671.7,1341.8 L2613.9,1341.8 M2556.2,1341.8 L2613.9,1341.8 M2556.2,1341.8 L2556.2,1301.4 M2556.2,1261 L2556.2,1301.4" fill="none" stroke="#1d1d1b" stroke-width="3" stroke-dasharray="19 7.8" stroke-linecap="round"/>
<polygon points="2707.5,775.7 2778,775.7 2781,782.1 2778,794.9 2781,807.7 2778,820.5 2781,833.3 2778,839.7 2707.5,839.7" fill="#e4e4e4" stroke="none" stroke-width="2" />
<polyline points="2778,839.7 2707.5,839.7 2707.5,775.7 2778,775.7 2781,782.1 2778,794.9 2781,807.7 2778,820.5 2781,833.3 2778,839.7" fill="none" stroke="#1d1d1b" stroke-width="2.4" stroke-linejoin="miter" />
<polygon points="2696,1284.4 2777,1284.4 2780,1289.2 2777,1298.9 2780,1308.5 2777,1318.1 2780,1327.8 2777,1332.6 2696,1332.6" fill="#e4e4e4" stroke="none" stroke-width="2" />
<polyline points="2777,1332.6 2696,1332.6 2696,1284.4 2777,1284.4 2780,1289.2 2777,1298.9 2780,1308.5 2777,1318.1 2780,1327.8 2777,1332.6" fill="none" stroke="#1d1d1b" stroke-width="2.4" stroke-linejoin="miter" />
<polygon points="2897.2,775.7 2968.4,775.7 2971.4,782.1 2968.4,794.9 2971.4,807.7 2968.4,820.5 2971.4,833.3 2968.4,839.7 2897.2,839.7" fill="#e4e4e4" stroke="none" stroke-width="2" />
<polyline points="2968.4,839.7 2897.2,839.7 2897.2,775.7 2968.4,775.7 2971.4,782.1 2968.4,794.9 2971.4,807.7 2968.4,820.5 2971.4,833.3 2968.4,839.7" fill="none" stroke="#1d1d1b" stroke-width="2.4" stroke-linejoin="miter" />
<polygon points="2884.9,1204.3 2978.3,1204.3 2966.3,1213.8 2978.3,1223.2 2966.3,1232.7 2978.3,1242.1 2966.3,1251.5 2978.3,1261 2884.9,1261" fill="#e4e4e4" stroke="none" stroke-width="2" />
<polyline points="2884.9,1261 2884.9,1204.3 2978.3,1204.3 2966.3,1213.8 2978.3,1223.2 2966.3,1232.7 2978.3,1242.1 2966.3,1251.5 2978.3,1261" fill="none" stroke="#1d1d1b" stroke-width="2.4" stroke-linejoin="miter" />
<polygon points="2883.9,1261 2977,1261 2965,1272.6 2977,1284.2 2965,1295.8 2977,1307.4 2965,1319 2977,1330.6 2965,1342.2 2977,1353.8 2883.9,1353.8" fill="#c6e8fa" stroke="none" stroke-width="2" />
<path d="M2883.9,1261 L2930.4,1261 M2977,1261 L2930.4,1261 M2977,1261 L2971,1266.8 M2965,1272.6 L2971,1266.8 M2965,1272.6 L2971,1278.4 M2977,1284.2 L2971,1278.4 M2977,1284.2 L2971,1290 M2965,1295.8 L2971,1290 M2965,1295.8 L2971,1301.6 M2977,1307.4 L2971,1301.6 M2977,1307.4 L2971,1313.2 M2965,1319 L2971,1313.2 M2965,1319 L2971,1324.8 M2977,1330.6 L2971,1324.8 M2977,1330.6 L2971,1336.4 M2965,1342.2 L2971,1336.4 M2965,1342.2 L2971,1348 M2977,1353.8 L2971,1348 M2977,1353.8 L2930.4,1353.8 M2883.9,1353.8 L2930.4,1353.8 M2883.9,1353.8 L2883.9,1307.4 M2883.9,1261 L2883.9,1307.4" fill="none" stroke="#1d1d1b" stroke-width="3" stroke-dasharray="19 7.8" stroke-linecap="round"/>
<polygon points="3032.8,1173 3092,1173 3082,1185.5 3092,1198 3082,1210.4 3092,1222.9 3032.8,1222.9" fill="#e4e4e4" stroke="none" stroke-width="2" />
<polyline points="3032.8,1222.9 3032.8,1173 3092,1173 3082,1185.5 3092,1198 3082,1210.4 3092,1222.9" fill="none" stroke="#1d1d1b" stroke-width="2.4" stroke-linejoin="miter" />
<polygon points="3129.7,1173 3188.8,1173 3178.8,1185.5 3188.8,1198 3178.8,1210.4 3188.8,1222.9 3129.7,1222.9" fill="#e4e4e4" stroke="none" stroke-width="2" />
<polyline points="3129.7,1222.9 3129.7,1173 3188.8,1173 3178.8,1185.5 3188.8,1198 3178.8,1210.4 3188.8,1222.9" fill="none" stroke="#1d1d1b" stroke-width="2.4" stroke-linejoin="miter" />
<polygon points="3032.8,1222.9 3193.8,1222.9 3183.8,1237.7 3193.8,1252.4 3183.8,1267.2 3193.8,1282 3183.8,1296.7 3193.8,1311.5 3183.8,1326.2 3193.8,1341 3032.8,1341" fill="#c6e8fa" stroke="none" stroke-width="2" />
<path d="M3032.8,1222.9 L3113.3,1222.9 M3193.8,1222.9 L3113.3,1222.9 M3193.8,1222.9 L3188.8,1230.3 M3183.8,1237.7 L3188.8,1230.3 M3183.8,1237.7 L3188.8,1245 M3193.8,1252.4 L3188.8,1245 M3193.8,1252.4 L3188.8,1259.8 M3183.8,1267.2 L3188.8,1259.8 M3183.8,1267.2 L3188.8,1274.6 M3193.8,1282 L3188.8,1274.6 M3193.8,1282 L3188.8,1289.3 M3183.8,1296.7 L3188.8,1289.3 M3183.8,1296.7 L3188.8,1304.1 M3193.8,1311.5 L3188.8,1304.1 M3193.8,1311.5 L3188.8,1318.9 M3183.8,1326.2 L3188.8,1318.9 M3183.8,1326.2 L3188.8,1333.6 M3193.8,1341 L3188.8,1333.6 M3193.8,1341 L3113.3,1341 M3032.8,1341 L3113.3,1341 M3032.8,1341 L3032.8,1282 M3032.8,1222.9 L3032.8,1282" fill="none" stroke="#1d1d1b" stroke-width="3" stroke-dasharray="19 7.8" stroke-linecap="round"/>
<polygon points="3231.5,1204 3325,1204 3312,1213.4 3325,1222.9 3312,1232.3 3325,1241.7 3312,1251.2 3325,1260.6 3231.5,1260.6" fill="#e4e4e4" stroke="none" stroke-width="2" />
<polyline points="3231.5,1260.6 3231.5,1204 3325,1204 3312,1213.4 3325,1222.9 3312,1232.3 3325,1241.7 3312,1251.2 3325,1260.6" fill="none" stroke="#1d1d1b" stroke-width="2.4" stroke-linejoin="miter" />
<polygon points="3231.5,1260.6 3323,1260.6 3310,1272.1 3323,1283.6 3310,1295.1 3323,1306.6 3310,1318.1 3323,1329.6 3310,1341.1 3323,1352.6 3231.5,1352.6" fill="#c6e8fa" stroke="none" stroke-width="2" />
<path d="M3231.5,1260.6 L3277.2,1260.6 M3323,1260.6 L3277.2,1260.6 M3323,1260.6 L3316.5,1266.3 M3310,1272.1 L3316.5,1266.3 M3310,1272.1 L3316.5,1277.8 M3323,1283.6 L3316.5,1277.8 M3323,1283.6 L3316.5,1289.3 M3310,1295.1 L3316.5,1289.3 M3310,1295.1 L3316.5,1300.8 M3323,1306.6 L3316.5,1300.8 M3323,1306.6 L3316.5,1312.3 M3310,1318.1 L3316.5,1312.3 M3310,1318.1 L3316.5,1323.8 M3323,1329.6 L3316.5,1323.8 M3323,1329.6 L3316.5,1335.3 M3310,1341.1 L3316.5,1335.3 M3310,1341.1 L3316.5,1346.8 M3323,1352.6 L3316.5,1346.8 M3323,1352.6 L3277.2,1352.6 M3231.5,1352.6 L3277.2,1352.6 M3231.5,1352.6 L3231.5,1306.6 M3231.5,1260.6 L3231.5,1306.6" fill="none" stroke="#1d1d1b" stroke-width="3" stroke-dasharray="19 7.8" stroke-linecap="round"/>
<polygon points="3342.2,1157.2 3532,1157.2 3520,1166.7 3532,1176.1 3520,1185.6 3532,1195.1 3520,1204.5 3532,1214 3342.2,1214" fill="#e4e4e4" stroke="none" stroke-width="2" />
<polyline points="3342.2,1214 3342.2,1157.2 3532,1157.2 3520,1166.7 3532,1176.1 3520,1185.6 3532,1195.1 3520,1204.5 3532,1214" fill="none" stroke="#1d1d1b" stroke-width="2.4" stroke-linejoin="miter" />
<polygon points="3341.5,1214 3532,1214 3520,1229.9 3532,1245.8 3520,1261.6 3532,1277.5 3520,1293.4 3532,1309.2 3520,1325.1 3532,1341 3341.5,1341" fill="#c6e8fa" stroke="none" stroke-width="2" />
<path d="M3341.5,1214 L3436.8,1214 M3532,1214 L3436.8,1214 M3532,1214 L3526,1221.9 M3520,1229.9 L3526,1221.9 M3520,1229.9 L3526,1237.8 M3532,1245.8 L3526,1237.8 M3532,1245.8 L3526,1253.7 M3520,1261.6 L3526,1253.7 M3520,1261.6 L3526,1269.6 M3532,1277.5 L3526,1269.6 M3532,1277.5 L3526,1285.4 M3520,1293.4 L3526,1285.4 M3520,1293.4 L3526,1301.3 M3532,1309.2 L3526,1301.3 M3532,1309.2 L3526,1317.2 M3520,1325.1 L3526,1317.2 M3520,1325.1 L3526,1333.1 M3532,1341 L3526,1333.1 M3532,1341 L3436.8,1341 M3341.5,1341 L3436.8,1341 M3341.5,1341 L3341.5,1277.5 M3341.5,1214 L3341.5,1277.5" fill="none" stroke="#1d1d1b" stroke-width="3" stroke-dasharray="19 7.8" stroke-linecap="round"/>
<path d="M114.5,233.5 L114.5,396.6" stroke="url(#pGYRDv)" stroke-width="10" stroke-linecap="butt"/>
<path d="M114.5,233.5 L114.5,396.6" fill="none" stroke="#000" stroke-opacity="0.5" stroke-width="10" stroke-linejoin="miter"/>
<path d="M114.5,233.5 L114.5,396.6" stroke="url(#pGYRDv)" stroke-width="6.6" stroke-linecap="butt"/>
<path d="M114.5,445.8 L114.5,904" stroke="url(#pGYRDv)" stroke-width="10" stroke-linecap="butt"/>
<path d="M114.5,445.8 L114.5,904" fill="none" stroke="#000" stroke-opacity="0.5" stroke-width="10" stroke-linejoin="miter"/>
<path d="M114.5,445.8 L114.5,904" stroke="url(#pGYRDv)" stroke-width="6.6" stroke-linecap="butt"/>
<path d="M216.8,233.5 L216.8,396.6" stroke="url(#pBNGYv)" stroke-width="10" stroke-linecap="butt"/>
<path d="M216.8,233.5 L216.8,396.6" fill="none" stroke="#000" stroke-opacity="0.5" stroke-width="10" stroke-linejoin="miter"/>
<path d="M216.8,233.5 L216.8,396.6" stroke="url(#pBNGYv)" stroke-width="6.6" stroke-linecap="butt"/>
<path d="M216.8,445.8 L216.8,904" stroke="url(#pBNGYv)" stroke-width="10" stroke-linecap="butt"/>
<path d="M216.8,445.8 L216.8,904" fill="none" stroke="#000" stroke-opacity="0.5" stroke-width="10" stroke-linejoin="miter"/>
<path d="M216.8,445.8 L216.8,904" stroke="url(#pBNGYv)" stroke-width="6.6" stroke-linecap="butt"/>
<path d="M261,233.5 L261,337.3" stroke="url(#pGYBUv)" stroke-width="10" stroke-linecap="butt"/>
<path d="M261,233.5 L261,337.3" fill="none" stroke="#000" stroke-opacity="0.5" stroke-width="10" stroke-linejoin="miter"/>
<path d="M261,233.5 L261,337.3" stroke="url(#pGYBUv)" stroke-width="6.6" stroke-linecap="butt"/>
<path d="M261,386.5 L261,904" stroke="url(#pGYBUv)" stroke-width="10" stroke-linecap="butt"/>
<path d="M261,386.5 L261,904" fill="none" stroke="#000" stroke-opacity="0.5" stroke-width="10" stroke-linejoin="miter"/>
<path d="M261,386.5 L261,904" stroke="url(#pGYBUv)" stroke-width="6.6" stroke-linecap="butt"/>
<path d="M304.8,233.5 L304.8,396.6" stroke="url(#pGYGNv)" stroke-width="10" stroke-linecap="butt"/>
<path d="M304.8,233.5 L304.8,396.6" fill="none" stroke="#000" stroke-opacity="0.5" stroke-width="10" stroke-linejoin="miter"/>
<path d="M304.8,233.5 L304.8,396.6" stroke="url(#pGYGNv)" stroke-width="6.6" stroke-linecap="butt"/>
<path d="M304.8,445.8 L304.8,904" stroke="url(#pGYGNv)" stroke-width="10" stroke-linecap="butt"/>
<path d="M304.8,445.8 L304.8,904" fill="none" stroke="#000" stroke-opacity="0.5" stroke-width="10" stroke-linejoin="miter"/>
<path d="M304.8,445.8 L304.8,904" stroke="url(#pGYGNv)" stroke-width="6.6" stroke-linecap="butt"/>
<path d="M351.7,233.5 L351.7,337.3" stroke="url(#pGYRDv)" stroke-width="10" stroke-linecap="butt"/>
<path d="M351.7,233.5 L351.7,337.3" fill="none" stroke="#000" stroke-opacity="0.5" stroke-width="10" stroke-linejoin="miter"/>
<path d="M351.7,233.5 L351.7,337.3" stroke="url(#pGYRDv)" stroke-width="6.6" stroke-linecap="butt"/>
<path d="M351.7,386.5 L351.7,904" stroke="url(#pGYRDv)" stroke-width="10" stroke-linecap="butt"/>
<path d="M351.7,386.5 L351.7,904" fill="none" stroke="#000" stroke-opacity="0.5" stroke-width="10" stroke-linejoin="miter"/>
<path d="M351.7,386.5 L351.7,904" stroke="url(#pGYRDv)" stroke-width="6.6" stroke-linecap="butt"/>
<path d="M397,233.5 L397,396.6" stroke="url(#pGYVTv)" stroke-width="10" stroke-linecap="butt"/>
<path d="M397,233.5 L397,396.6" fill="none" stroke="#000" stroke-opacity="0.5" stroke-width="10" stroke-linejoin="miter"/>
<path d="M397,233.5 L397,396.6" stroke="url(#pGYVTv)" stroke-width="6.6" stroke-linecap="butt"/>
<path d="M397,445.8 L397,904" stroke="url(#pGYVTv)" stroke-width="10" stroke-linecap="butt"/>
<path d="M397,445.8 L397,904" fill="none" stroke="#000" stroke-opacity="0.5" stroke-width="10" stroke-linejoin="miter"/>
<path d="M397,445.8 L397,904" stroke="url(#pGYVTv)" stroke-width="6.6" stroke-linecap="butt"/>
<path d="M442,233.5 L442,337.3" stroke="url(#pBKGYv)" stroke-width="10" stroke-linecap="butt"/>
<path d="M442,233.5 L442,337.3" fill="none" stroke="#000" stroke-opacity="0.5" stroke-width="10" stroke-linejoin="miter"/>
<path d="M442,233.5 L442,337.3" stroke="url(#pBKGYv)" stroke-width="6.6" stroke-linecap="butt"/>
<path d="M442,386.5 L442,904" stroke="url(#pBKGYv)" stroke-width="10" stroke-linecap="butt"/>
<path d="M442,386.5 L442,904" fill="none" stroke="#000" stroke-opacity="0.5" stroke-width="10" stroke-linejoin="miter"/>
<path d="M442,386.5 L442,904" stroke="url(#pBKGYv)" stroke-width="6.6" stroke-linecap="butt"/>
<path d="M487.5,233.5 L487.5,396.6" stroke="url(#pBUGNv)" stroke-width="10" stroke-linecap="butt"/>
<path d="M487.5,233.5 L487.5,396.6" fill="none" stroke="#000" stroke-opacity="0.5" stroke-width="10" stroke-linejoin="miter"/>
<path d="M487.5,233.5 L487.5,396.6" stroke="url(#pBUGNv)" stroke-width="6.6" stroke-linecap="butt"/>
<path d="M487.5,445.8 L487.5,904" stroke="url(#pBUGNv)" stroke-width="10" stroke-linecap="butt"/>
<path d="M487.5,445.8 L487.5,904" fill="none" stroke="#000" stroke-opacity="0.5" stroke-width="10" stroke-linejoin="miter"/>
<path d="M487.5,445.8 L487.5,904" stroke="url(#pBUGNv)" stroke-width="6.6" stroke-linecap="butt"/>
<path d="M532.5,233.5 L532.5,337.3" stroke="url(#pBUYEv)" stroke-width="10" stroke-linecap="butt"/>
<path d="M532.5,233.5 L532.5,337.3" fill="none" stroke="#000" stroke-opacity="0.5" stroke-width="10" stroke-linejoin="miter"/>
<path d="M532.5,233.5 L532.5,337.3" stroke="url(#pBUYEv)" stroke-width="6.6" stroke-linecap="butt"/>
<path d="M532.5,386.5 L532.5,904" stroke="url(#pBUYEv)" stroke-width="10" stroke-linecap="butt"/>
<path d="M532.5,386.5 L532.5,904" fill="none" stroke="#000" stroke-opacity="0.5" stroke-width="10" stroke-linejoin="miter"/>
<path d="M532.5,386.5 L532.5,904" stroke="url(#pBUYEv)" stroke-width="6.6" stroke-linecap="butt"/>
<path d="M577.7,233.5 L577.7,396.6" stroke="url(#pGYBUv)" stroke-width="10" stroke-linecap="butt"/>
<path d="M577.7,233.5 L577.7,396.6" fill="none" stroke="#000" stroke-opacity="0.5" stroke-width="10" stroke-linejoin="miter"/>
<path d="M577.7,233.5 L577.7,396.6" stroke="url(#pGYBUv)" stroke-width="6.6" stroke-linecap="butt"/>
<path d="M577.7,445.8 L577.7,904" stroke="url(#pGYBUv)" stroke-width="10" stroke-linecap="butt"/>
<path d="M577.7,445.8 L577.7,904" fill="none" stroke="#000" stroke-opacity="0.5" stroke-width="10" stroke-linejoin="miter"/>
<path d="M577.7,445.8 L577.7,904" stroke="url(#pGYBUv)" stroke-width="6.6" stroke-linecap="butt"/>
<path d="M623,233.5 L623,337.3" fill="none" stroke="#1fa3df" stroke-width="10" stroke-linejoin="miter"/>
<path d="M623,233.5 L623,337.3" fill="none" stroke="#000" stroke-opacity="0.5" stroke-width="10" stroke-linejoin="miter"/>
<path d="M623,233.5 L623,337.3" fill="none" stroke="#1fa3df" stroke-width="6.6" stroke-linejoin="miter"/>
<path d="M623,386.5 L623,904" fill="none" stroke="#1fa3df" stroke-width="10" stroke-linejoin="miter"/>
<path d="M623,386.5 L623,904" fill="none" stroke="#000" stroke-opacity="0.5" stroke-width="10" stroke-linejoin="miter"/>
<path d="M623,386.5 L623,904" fill="none" stroke="#1fa3df" stroke-width="6.6" stroke-linejoin="miter"/>
<path d="M668,233.5 L668,396.6" stroke="url(#pBNBUv)" stroke-width="10" stroke-linecap="butt"/>
<path d="M668,233.5 L668,396.6" fill="none" stroke="#000" stroke-opacity="0.5" stroke-width="10" stroke-linejoin="miter"/>
<path d="M668,233.5 L668,396.6" stroke="url(#pBNBUv)" stroke-width="6.6" stroke-linecap="butt"/>
<path d="M668,445.8 L668,904" stroke="url(#pBNBUv)" stroke-width="10" stroke-linecap="butt"/>
<path d="M668,445.8 L668,904" fill="none" stroke="#000" stroke-opacity="0.5" stroke-width="10" stroke-linejoin="miter"/>
<path d="M668,445.8 L668,904" stroke="url(#pBNBUv)" stroke-width="6.6" stroke-linecap="butt"/>
<path d="M722,233.5 L722,337.3" stroke="url(#pGNWHv)" stroke-width="10" stroke-linecap="butt"/>
<path d="M722,233.5 L722,337.3" fill="none" stroke="#000" stroke-opacity="0.5" stroke-width="10" stroke-linejoin="miter"/>
<path d="M722,233.5 L722,337.3" stroke="url(#pGNWHv)" stroke-width="6.6" stroke-linecap="butt"/>
<path d="M722,386.5 L722,479.5" stroke="url(#pGNWHv)" stroke-width="10" stroke-linecap="butt"/>
<path d="M722,386.5 L722,479.5" fill="none" stroke="#000" stroke-opacity="0.5" stroke-width="10" stroke-linejoin="miter"/>
<path d="M722,386.5 L722,479.5" stroke="url(#pGNWHv)" stroke-width="6.6" stroke-linecap="butt"/>
<path d="M791,233.5 L791,396.6" fill="none" stroke="#0f9a4a" stroke-width="10" stroke-linejoin="miter"/>
<path d="M791,233.5 L791,396.6" fill="none" stroke="#000" stroke-opacity="0.5" stroke-width="10" stroke-linejoin="miter"/>
<path d="M791,233.5 L791,396.6" fill="none" stroke="#0f9a4a" stroke-width="6.6" stroke-linejoin="miter"/>
<path d="M791,445.8 L791,479.5" fill="none" stroke="#0f9a4a" stroke-width="10" stroke-linejoin="miter"/>
<path d="M791,445.8 L791,479.5" fill="none" stroke="#000" stroke-opacity="0.5" stroke-width="10" stroke-linejoin="miter"/>
<path d="M791,445.8 L791,479.5" fill="none" stroke="#0f9a4a" stroke-width="6.6" stroke-linejoin="miter"/>
<path d="M800.3,845 L800.3,1102.7" stroke="url(#pPKRDv)" stroke-width="10" stroke-linecap="butt"/>
<path d="M800.3,845 L800.3,1102.7" fill="none" stroke="#000" stroke-opacity="0.5" stroke-width="10" stroke-linejoin="miter"/>
<path d="M800.3,845 L800.3,1102.7" stroke="url(#pPKRDv)" stroke-width="6.6" stroke-linecap="butt"/>
<path d="M800.3,1152.8 L800.3,1213.3" stroke="url(#pPKRDv)" stroke-width="10" stroke-linecap="butt"/>
<path d="M800.3,1152.8 L800.3,1213.3" fill="none" stroke="#000" stroke-opacity="0.5" stroke-width="10" stroke-linejoin="miter"/>
<path d="M800.3,1152.8 L800.3,1213.3" stroke="url(#pPKRDv)" stroke-width="6.6" stroke-linecap="butt"/>
<path d="M954,868 L954,1051.4" stroke="url(#pGYBUv)" stroke-width="10" stroke-linecap="butt"/>
<path d="M954,868 L954,1051.4" fill="none" stroke="#000" stroke-opacity="0.5" stroke-width="10" stroke-linejoin="miter"/>
<path d="M954,868 L954,1051.4" stroke="url(#pGYBUv)" stroke-width="6.6" stroke-linecap="butt"/>
<path d="M954,1101.5 L954,1213.3" stroke="url(#pGYBUv)" stroke-width="10" stroke-linecap="butt"/>
<path d="M954,1101.5 L954,1213.3" fill="none" stroke="#000" stroke-opacity="0.5" stroke-width="10" stroke-linejoin="miter"/>
<path d="M954,1101.5 L954,1213.3" stroke="url(#pGYBUv)" stroke-width="6.6" stroke-linecap="butt"/>
<path d="M997,233.5 L997,1102.7" stroke="url(#pBUBKv)" stroke-width="10" stroke-linecap="butt"/>
<path d="M997,233.5 L997,1102.7" fill="none" stroke="#000" stroke-opacity="0.5" stroke-width="10" stroke-linejoin="miter"/>
<path d="M997,233.5 L997,1102.7" stroke="url(#pBUBKv)" stroke-width="6.6" stroke-linecap="butt"/>
<path d="M997,1152.8 L997,1213.3" stroke="url(#pBUBKv)" stroke-width="10" stroke-linecap="butt"/>
<path d="M997,1152.8 L997,1213.3" fill="none" stroke="#000" stroke-opacity="0.5" stroke-width="10" stroke-linejoin="miter"/>
<path d="M997,1152.8 L997,1213.3" stroke="url(#pBUBKv)" stroke-width="6.6" stroke-linecap="butt"/>
<path d="M1041.8,233.5 L1041.8,1051.4" stroke="url(#pGNWHv)" stroke-width="10" stroke-linecap="butt"/>
<path d="M1041.8,233.5 L1041.8,1051.4" fill="none" stroke="#000" stroke-opacity="0.5" stroke-width="10" stroke-linejoin="miter"/>
<path d="M1041.8,233.5 L1041.8,1051.4" stroke="url(#pGNWHv)" stroke-width="6.6" stroke-linecap="butt"/>
<path d="M1041.8,1101.5 L1041.8,1213.3" stroke="url(#pGNWHv)" stroke-width="10" stroke-linecap="butt"/>
<path d="M1041.8,1101.5 L1041.8,1213.3" fill="none" stroke="#000" stroke-opacity="0.5" stroke-width="10" stroke-linejoin="miter"/>
<path d="M1041.8,1101.5 L1041.8,1213.3" stroke="url(#pGNWHv)" stroke-width="6.6" stroke-linecap="butt"/>
<path d="M1085.3,233.5 L1085.3,1102.7" stroke="url(#pGNBKv)" stroke-width="10" stroke-linecap="butt"/>
<path d="M1085.3,233.5 L1085.3,1102.7" fill="none" stroke="#000" stroke-opacity="0.5" stroke-width="10" stroke-linejoin="miter"/>
<path d="M1085.3,233.5 L1085.3,1102.7" stroke="url(#pGNBKv)" stroke-width="6.6" stroke-linecap="butt"/>
<path d="M1085.3,1152.8 L1085.3,1213.3" stroke="url(#pGNBKv)" stroke-width="10" stroke-linecap="butt"/>
<path d="M1085.3,1152.8 L1085.3,1213.3" fill="none" stroke="#000" stroke-opacity="0.5" stroke-width="10" stroke-linejoin="miter"/>
<path d="M1085.3,1152.8 L1085.3,1213.3" stroke="url(#pGNBKv)" stroke-width="6.6" stroke-linecap="butt"/>
<path d="M1131.3,233.5 L1131.3,1051.4" stroke="url(#pVTGNv)" stroke-width="10" stroke-linecap="butt"/>
<path d="M1131.3,233.5 L1131.3,1051.4" fill="none" stroke="#000" stroke-opacity="0.5" stroke-width="10" stroke-linejoin="miter"/>
<path d="M1131.3,233.5 L1131.3,1051.4" stroke="url(#pVTGNv)" stroke-width="6.6" stroke-linecap="butt"/>
<path d="M1131.3,1101.5 L1131.3,1213.3" stroke="url(#pVTGNv)" stroke-width="10" stroke-linecap="butt"/>
<path d="M1131.3,1101.5 L1131.3,1213.3" fill="none" stroke="#000" stroke-opacity="0.5" stroke-width="10" stroke-linejoin="miter"/>
<path d="M1131.3,1101.5 L1131.3,1213.3" stroke="url(#pVTGNv)" stroke-width="6.6" stroke-linecap="butt"/>
<path d="M1178.6,233.5 L1178.6,1102.7" fill="none" stroke="#a88d6e" stroke-width="10" stroke-linejoin="miter"/>
<path d="M1178.6,233.5 L1178.6,1102.7" fill="none" stroke="#000" stroke-opacity="0.5" stroke-width="10" stroke-linejoin="miter"/>
<path d="M1178.6,233.5 L1178.6,1102.7" fill="none" stroke="#a88d6e" stroke-width="6.6" stroke-linejoin="miter"/>
<path d="M1178.6,1152.8 L1178.6,1213.3" fill="none" stroke="#a88d6e" stroke-width="10" stroke-linejoin="miter"/>
<path d="M1178.6,1152.8 L1178.6,1213.3" fill="none" stroke="#000" stroke-opacity="0.5" stroke-width="10" stroke-linejoin="miter"/>
<path d="M1178.6,1152.8 L1178.6,1213.3" fill="none" stroke="#a88d6e" stroke-width="6.6" stroke-linejoin="miter"/>
<path d="M1286.4,890.4 L1286.4,1102.7" fill="none" stroke="#a88d6e" stroke-width="10" stroke-linejoin="miter"/>
<path d="M1286.4,890.4 L1286.4,1102.7" fill="none" stroke="#000" stroke-opacity="0.5" stroke-width="10" stroke-linejoin="miter"/>
<path d="M1286.4,890.4 L1286.4,1102.7" fill="none" stroke="#a88d6e" stroke-width="6.6" stroke-linejoin="miter"/>
<path d="M1286.4,1152.8 L1286.4,1213.3" fill="none" stroke="#a88d6e" stroke-width="10" stroke-linejoin="miter"/>
<path d="M1286.4,1152.8 L1286.4,1213.3" fill="none" stroke="#000" stroke-opacity="0.5" stroke-width="10" stroke-linejoin="miter"/>
<path d="M1286.4,1152.8 L1286.4,1213.3" fill="none" stroke="#a88d6e" stroke-width="6.6" stroke-linejoin="miter"/>
<path d="M1288.7,893.3 L1313.3,922.3 L1658.6,922.3 L1658.6,1105.5" fill="none" stroke="#a88d6e" stroke-width="10" stroke-linejoin="miter"/>
<path d="M1288.7,893.3 L1313.3,922.3 L1658.6,922.3 L1658.6,1105.5" fill="none" stroke="#000" stroke-opacity="0.5" stroke-width="10" stroke-linejoin="miter"/>
<path d="M1288.7,893.3 L1313.3,922.3 L1658.6,922.3 L1658.6,1105.5" fill="none" stroke="#a88d6e" stroke-width="6.6" stroke-linejoin="miter"/>
<path d="M1658.6,1154 L1658.6,1231.7" fill="none" stroke="#a88d6e" stroke-width="10" stroke-linejoin="miter"/>
<path d="M1658.6,1154 L1658.6,1231.7" fill="none" stroke="#000" stroke-opacity="0.5" stroke-width="10" stroke-linejoin="miter"/>
<path d="M1658.6,1154 L1658.6,1231.7" fill="none" stroke="#a88d6e" stroke-width="6.6" stroke-linejoin="miter"/>
<path d="M1374.6,1209 L1374.6,945" stroke="url(#pPKRDv)" stroke-width="10" stroke-linecap="square"/>
<path d="M1374.6,945 L1577.1,945" stroke="url(#pPKRDh)" stroke-width="10" stroke-linecap="square"/>
<path d="M1577.1,945 L1577.1,1098.2" stroke="url(#pPKRDv)" stroke-width="10" stroke-linecap="square"/>
<path d="M1374.6,1214 L1374.6,945 L1577.1,945 L1577.1,1103.2" fill="none" stroke="#000" stroke-opacity="0.5" stroke-width="10" stroke-linejoin="miter"/>
<path d="M1374.6,1210.7 L1374.6,945" stroke="url(#pPKRDv)" stroke-width="6.6" stroke-linecap="square"/>
<path d="M1374.6,945 L1577.1,945" stroke="url(#pPKRDh)" stroke-width="6.6" stroke-linecap="square"/>
<path d="M1577.1,945 L1577.1,1099.9" stroke="url(#pPKRDv)" stroke-width="6.6" stroke-linecap="square"/>
<path d="M1577.1,1152 L1577.1,1231.7" stroke="url(#pPKRDv)" stroke-width="10" stroke-linecap="butt"/>
<path d="M1577.1,1152 L1577.1,1231.7" fill="none" stroke="#000" stroke-opacity="0.5" stroke-width="10" stroke-linejoin="miter"/>
<path d="M1577.1,1152 L1577.1,1231.7" stroke="url(#pPKRDv)" stroke-width="6.6" stroke-linecap="butt"/>
<path d="M1421,1209 L1421,971" stroke="url(#pGYBUv)" stroke-width="10" stroke-linecap="square"/>
<path d="M1421,971 L1524.6,971" stroke="url(#pGYBUh)" stroke-width="10" stroke-linecap="square"/>
<path d="M1524.6,971 L1524.6,1047.2" stroke="url(#pGYBUv)" stroke-width="10" stroke-linecap="square"/>
<path d="M1421,1214 L1421,971 L1524.6,971 L1524.6,1052.2" fill="none" stroke="#000" stroke-opacity="0.5" stroke-width="10" stroke-linejoin="miter"/>
<path d="M1421,1210.7 L1421,971" stroke="url(#pGYBUv)" stroke-width="6.6" stroke-linecap="square"/>
<path d="M1421,971 L1524.6,971" stroke="url(#pGYBUh)" stroke-width="6.6" stroke-linecap="square"/>
<path d="M1524.6,971 L1524.6,1048.9" stroke="url(#pGYBUv)" stroke-width="6.6" stroke-linecap="square"/>
<path d="M1524.6,1102 L1524.6,1231.7" stroke="url(#pGYBUv)" stroke-width="10" stroke-linecap="butt"/>
<path d="M1524.6,1102 L1524.6,1231.7" fill="none" stroke="#000" stroke-opacity="0.5" stroke-width="10" stroke-linejoin="miter"/>
<path d="M1524.6,1102 L1524.6,1231.7" stroke="url(#pGYBUv)" stroke-width="6.6" stroke-linecap="butt"/>
<path d="M1739,233.5 L1739,1103" fill="none" stroke="#1d1d1b" stroke-width="10" stroke-linejoin="miter"/>
<path d="M1739,233.5 L1739,1103" fill="none" stroke="#000" stroke-opacity="0.5" stroke-width="10" stroke-linejoin="miter"/>
<path d="M1739,233.5 L1739,1103" fill="none" stroke="#1d1d1b" stroke-width="6.6" stroke-linejoin="miter"/>
<path d="M1739,1152 L1739,1231.7" fill="none" stroke="#1d1d1b" stroke-width="10" stroke-linejoin="miter"/>
<path d="M1739,1152 L1739,1231.7" fill="none" stroke="#000" stroke-opacity="0.5" stroke-width="10" stroke-linejoin="miter"/>
<path d="M1739,1152 L1739,1231.7" fill="none" stroke="#1d1d1b" stroke-width="6.6" stroke-linejoin="miter"/>
<path d="M1536.2,233.5 L1536.2,336.5" stroke="url(#pBKVTv)" stroke-width="10" stroke-linecap="butt"/>
<path d="M1536.2,233.5 L1536.2,336.5" fill="none" stroke="#000" stroke-opacity="0.5" stroke-width="10" stroke-linejoin="miter"/>
<path d="M1536.2,233.5 L1536.2,336.5" stroke="url(#pBKVTv)" stroke-width="6.6" stroke-linecap="butt"/>
<path d="M1536.2,386.4 L1536.2,426.4" stroke="url(#pBKVTv)" stroke-width="10" stroke-linecap="butt"/>
<path d="M1536.2,386.4 L1536.2,426.4" fill="none" stroke="#000" stroke-opacity="0.5" stroke-width="10" stroke-linejoin="miter"/>
<path d="M1536.2,386.4 L1536.2,426.4" stroke="url(#pBKVTv)" stroke-width="6.6" stroke-linecap="butt"/>
<path d="M1536.2,475.6 L1536.2,557.7" stroke="url(#pBKVTv)" stroke-width="10" stroke-linecap="butt"/>
<path d="M1536.2,475.6 L1536.2,557.7" fill="none" stroke="#000" stroke-opacity="0.5" stroke-width="10" stroke-linejoin="miter"/>
<path d="M1536.2,475.6 L1536.2,557.7" stroke="url(#pBKVTv)" stroke-width="6.6" stroke-linecap="butt"/>
<path d="M2013,233.5 L2013,396" stroke="url(#pRDYEv)" stroke-width="10" stroke-linecap="butt"/>
<path d="M2013,233.5 L2013,396" fill="none" stroke="#000" stroke-opacity="0.5" stroke-width="10" stroke-linejoin="miter"/>
<path d="M2013,233.5 L2013,396" stroke="url(#pRDYEv)" stroke-width="6.6" stroke-linecap="butt"/>
<path d="M2013,445.2 L2013,820.4" stroke="url(#pRDYEv)" stroke-width="10" stroke-linecap="butt"/>
<path d="M2013,445.2 L2013,820.4" fill="none" stroke="#000" stroke-opacity="0.5" stroke-width="10" stroke-linejoin="miter"/>
<path d="M2013,445.2 L2013,820.4" stroke="url(#pRDYEv)" stroke-width="6.6" stroke-linecap="butt"/>
<path d="M2013,870 L2013,965" stroke="url(#pRDYEv)" stroke-width="10" stroke-linecap="butt"/>
<path d="M2013,870 L2013,965" fill="none" stroke="#000" stroke-opacity="0.5" stroke-width="10" stroke-linejoin="miter"/>
<path d="M2013,870 L2013,965" stroke="url(#pRDYEv)" stroke-width="6.6" stroke-linecap="butt"/>
<path d="M1866.7,622.3 L1866.7,820.4" stroke="url(#pPKRDv)" stroke-width="10" stroke-linecap="butt"/>
<path d="M1866.7,622.3 L1866.7,820.4" fill="none" stroke="#000" stroke-opacity="0.5" stroke-width="10" stroke-linejoin="miter"/>
<path d="M1866.7,622.3 L1866.7,820.4" stroke="url(#pPKRDv)" stroke-width="6.6" stroke-linecap="butt"/>
<path d="M1866.7,870 L1866.7,965" stroke="url(#pPKRDv)" stroke-width="10" stroke-linecap="butt"/>
<path d="M1866.7,870 L1866.7,965" fill="none" stroke="#000" stroke-opacity="0.5" stroke-width="10" stroke-linejoin="miter"/>
<path d="M1866.7,870 L1866.7,965" stroke="url(#pPKRDv)" stroke-width="6.6" stroke-linecap="butt"/>
<path d="M2119.2,965 L2119.2,889.5 L2208.4,889.5 L2208.4,1080" fill="none" stroke="#e3232a" stroke-width="10" stroke-linejoin="miter"/>
<path d="M2119.2,965 L2119.2,889.5 L2208.4,889.5 L2208.4,1080" fill="none" stroke="#000" stroke-opacity="0.5" stroke-width="10" stroke-linejoin="miter"/>
<path d="M2119.2,965 L2119.2,889.5 L2208.4,889.5 L2208.4,1080" fill="none" stroke="#e3232a" stroke-width="6.6" stroke-linejoin="miter"/>
<path d="M2208.4,1128.8 L2208.4,1226.5" fill="none" stroke="#e3232a" stroke-width="10" stroke-linejoin="miter"/>
<path d="M2208.4,1128.8 L2208.4,1226.5" fill="none" stroke="#000" stroke-opacity="0.5" stroke-width="10" stroke-linejoin="miter"/>
<path d="M2208.4,1128.8 L2208.4,1226.5" fill="none" stroke="#e3232a" stroke-width="6.6" stroke-linejoin="miter"/>
<path d="M2477,1148.5 L2477,966.7" stroke="url(#pBKVTv)" stroke-width="10" stroke-linecap="square"/>
<path d="M2477,966.7 L2590.4,966.7" stroke="url(#pBKVTh)" stroke-width="10" stroke-linecap="square"/>
<path d="M2590.4,966.7 L2590.4,1030" stroke="url(#pBKVTv)" stroke-width="10" stroke-linecap="square"/>
<path d="M2477,1153.5 L2477,966.7 L2590.4,966.7 L2590.4,1035" fill="none" stroke="#000" stroke-opacity="0.5" stroke-width="10" stroke-linejoin="miter"/>
<path d="M2477,1150.2 L2477,966.7" stroke="url(#pBKVTv)" stroke-width="6.6" stroke-linecap="square"/>
<path d="M2477,966.7 L2590.4,966.7" stroke="url(#pBKVTh)" stroke-width="6.6" stroke-linecap="square"/>
<path d="M2590.4,966.7 L2590.4,1031.7" stroke="url(#pBKVTv)" stroke-width="6.6" stroke-linecap="square"/>
<path d="M2590.4,1084.2 L2590.4,1233" stroke="url(#pBKVTv)" stroke-width="10" stroke-linecap="butt"/>
<path d="M2590.4,1084.2 L2590.4,1233" fill="none" stroke="#000" stroke-opacity="0.5" stroke-width="10" stroke-linejoin="miter"/>
<path d="M2590.4,1084.2 L2590.4,1233" stroke="url(#pBKVTv)" stroke-width="6.6" stroke-linecap="butt"/>
<path d="M2645.2,233.5 L2645.2,1088.4" stroke="url(#pGNYEv)" stroke-width="10" stroke-linecap="butt"/>
<path d="M2645.2,233.5 L2645.2,1088.4" fill="none" stroke="#000" stroke-opacity="0.5" stroke-width="10" stroke-linejoin="miter"/>
<path d="M2645.2,233.5 L2645.2,1088.4" stroke="url(#pGNYEv)" stroke-width="6.6" stroke-linecap="butt"/>
<path d="M2645.2,1138.3 L2645.2,1233" stroke="url(#pGNYEv)" stroke-width="10" stroke-linecap="butt"/>
<path d="M2645.2,1138.3 L2645.2,1233" fill="none" stroke="#000" stroke-opacity="0.5" stroke-width="10" stroke-linejoin="miter"/>
<path d="M2645.2,1138.3 L2645.2,1233" stroke="url(#pGNYEv)" stroke-width="6.6" stroke-linecap="butt"/>
<path d="M2743.5,233.5 L2743.5,395.3" stroke="url(#pWHBUv)" stroke-width="10" stroke-linecap="butt"/>
<path d="M2743.5,233.5 L2743.5,395.3" fill="none" stroke="#000" stroke-opacity="0.5" stroke-width="10" stroke-linejoin="miter"/>
<path d="M2743.5,233.5 L2743.5,395.3" stroke="url(#pWHBUv)" stroke-width="6.6" stroke-linecap="butt"/>
<path d="M2743.5,445 L2743.5,791.5" stroke="url(#pWHBUv)" stroke-width="10" stroke-linecap="butt"/>
<path d="M2743.5,445 L2743.5,791.5" fill="none" stroke="#000" stroke-opacity="0.5" stroke-width="10" stroke-linejoin="miter"/>
<path d="M2743.5,445 L2743.5,791.5" stroke="url(#pWHBUv)" stroke-width="6.6" stroke-linecap="butt"/>
<path d="M2743.5,778 L2743.5,791.5" stroke="url(#pWHBUv)" stroke-width="10" stroke-linecap="butt"/>
<path d="M2743.5,778 L2743.5,791.5" fill="none" stroke="#000" stroke-opacity="0.5" stroke-width="10" stroke-linejoin="miter"/>
<path d="M2743.5,778 L2743.5,791.5" stroke="url(#pWHBUv)" stroke-width="6.6" stroke-linecap="butt"/>
<path d="M2743.5,821 L2743.5,1088.4" stroke="url(#pWHBUv)" stroke-width="10" stroke-linecap="butt"/>
<path d="M2743.5,821 L2743.5,1088.4" fill="none" stroke="#000" stroke-opacity="0.5" stroke-width="10" stroke-linejoin="miter"/>
<path d="M2743.5,821 L2743.5,1088.4" stroke="url(#pWHBUv)" stroke-width="6.6" stroke-linecap="butt"/>
<path d="M2743.5,1138.3 L2743.5,1307" stroke="url(#pWHBUv)" stroke-width="10" stroke-linecap="butt"/>
<path d="M2743.5,1138.3 L2743.5,1307" fill="none" stroke="#000" stroke-opacity="0.5" stroke-width="10" stroke-linejoin="miter"/>
<path d="M2743.5,1138.3 L2743.5,1307" stroke="url(#pWHBUv)" stroke-width="6.6" stroke-linecap="butt"/>
<path d="M2933,791.5 L2933,729.3" stroke="url(#pRDBNv)" stroke-width="10" stroke-linecap="butt"/>
<path d="M2933,791.5 L2933,729.3" fill="none" stroke="#000" stroke-opacity="0.5" stroke-width="10" stroke-linejoin="miter"/>
<path d="M2933,791.5 L2933,729.3" stroke="url(#pRDBNv)" stroke-width="6.6" stroke-linecap="butt"/>
<path d="M2933,674.8 L2933,568.4" stroke="url(#pRDBNv)" stroke-width="10" stroke-linecap="square"/>
<path d="M2933,568.4 L3028.3,568.4" stroke="url(#pRDBNh)" stroke-width="10" stroke-linecap="square"/>
<path d="M3028.3,568.4 L3028.3,1139" stroke="url(#pRDBNv)" stroke-width="10" stroke-linecap="square"/>
<path d="M3028.3,1139 L3056.5,1188.7" stroke="url(#pRDBNv)" stroke-width="10" stroke-linecap="square"/>
<path d="M2933,679.8 L2933,568.4 L3028.3,568.4 L3028.3,1139 L3059,1193" fill="none" stroke="#000" stroke-opacity="0.5" stroke-width="10" stroke-linejoin="miter"/>
<path d="M2933,676.5 L2933,568.4" stroke="url(#pRDBNv)" stroke-width="6.6" stroke-linecap="square"/>
<path d="M2933,568.4 L3028.3,568.4" stroke="url(#pRDBNh)" stroke-width="6.6" stroke-linecap="square"/>
<path d="M3028.3,568.4 L3028.3,1139" stroke="url(#pRDBNv)" stroke-width="6.6" stroke-linecap="square"/>
<path d="M3028.3,1139 L3057.4,1190.1" stroke="url(#pRDBNv)" stroke-width="6.6" stroke-linecap="square"/>
<path d="M2933.2,778 L2933.2,791.5" stroke="url(#pRDBNv)" stroke-width="10" stroke-linecap="butt"/>
<path d="M2933.2,778 L2933.2,791.5" fill="none" stroke="#000" stroke-opacity="0.5" stroke-width="10" stroke-linejoin="miter"/>
<path d="M2933.2,778 L2933.2,791.5" stroke="url(#pRDBNv)" stroke-width="6.6" stroke-linecap="butt"/>
<path d="M2933.2,821 L2933.2,1088.4" stroke="url(#pBNGYv)" stroke-width="10" stroke-linecap="butt"/>
<path d="M2933.2,821 L2933.2,1088.4" fill="none" stroke="#000" stroke-opacity="0.5" stroke-width="10" stroke-linejoin="miter"/>
<path d="M2933.2,821 L2933.2,1088.4" stroke="url(#pBNGYv)" stroke-width="6.6" stroke-linecap="butt"/>
<path d="M2933.2,1138.3 L2933.2,1233" stroke="url(#pBNGYv)" stroke-width="10" stroke-linecap="butt"/>
<path d="M2933.2,1138.3 L2933.2,1233" fill="none" stroke="#000" stroke-opacity="0.5" stroke-width="10" stroke-linejoin="miter"/>
<path d="M2933.2,1138.3 L2933.2,1233" stroke="url(#pBNGYv)" stroke-width="6.6" stroke-linecap="butt"/>
<path d="M3062,233.5 L3062,397" stroke="url(#pBNRDv)" stroke-width="10" stroke-linecap="butt"/>
<path d="M3062,233.5 L3062,397" fill="none" stroke="#000" stroke-opacity="0.5" stroke-width="10" stroke-linejoin="miter"/>
<path d="M3062,233.5 L3062,397" stroke="url(#pBNRDv)" stroke-width="6.6" stroke-linecap="butt"/>
<path d="M3062,445 L3062,1204.8" stroke="url(#pBNRDv)" stroke-width="10" stroke-linecap="butt"/>
<path d="M3062,445 L3062,1204.8" fill="none" stroke="#000" stroke-opacity="0.5" stroke-width="10" stroke-linejoin="miter"/>
<path d="M3062,445 L3062,1204.8" stroke="url(#pBNRDv)" stroke-width="6.6" stroke-linecap="butt"/>
<path d="M3161,1204.8 L3160.2,903.1 L3374.2,903.1 L3374.2,1037.4" fill="none" stroke="#a2478f" stroke-width="10" stroke-linejoin="miter"/>
<path d="M3161,1204.8 L3160.2,903.1 L3374.2,903.1 L3374.2,1037.4" fill="none" stroke="#000" stroke-opacity="0.5" stroke-width="10" stroke-linejoin="miter"/>
<path d="M3161,1204.8 L3160.2,903.1 L3374.2,903.1 L3374.2,1037.4" fill="none" stroke="#a2478f" stroke-width="6.6" stroke-linejoin="miter"/>
<path d="M3374.2,1087.3 L3374.4,1178.5" fill="none" stroke="#a2478f" stroke-width="10" stroke-linejoin="miter"/>
<path d="M3374.2,1087.3 L3374.4,1178.5" fill="none" stroke="#000" stroke-opacity="0.5" stroke-width="10" stroke-linejoin="miter"/>
<path d="M3374.2,1087.3 L3374.4,1178.5" fill="none" stroke="#a2478f" stroke-width="6.6" stroke-linejoin="miter"/>
<path d="M3163,1197 L3187.7,1149 L3187.7,939 L3278.6,939 L3278.6,1088.2" fill="none" stroke="#a2478f" stroke-width="10" stroke-linejoin="miter"/>
<path d="M3163,1197 L3187.7,1149 L3187.7,939 L3278.6,939 L3278.6,1088.2" fill="none" stroke="#000" stroke-opacity="0.5" stroke-width="10" stroke-linejoin="miter"/>
<path d="M3163,1197 L3187.7,1149 L3187.7,939 L3278.6,939 L3278.6,1088.2" fill="none" stroke="#a2478f" stroke-width="6.6" stroke-linejoin="miter"/>
<path d="M3278.6,1138.5 L3279.1,1232.7" fill="none" stroke="#a2478f" stroke-width="10" stroke-linejoin="miter"/>
<path d="M3278.6,1138.5 L3279.1,1232.7" fill="none" stroke="#000" stroke-opacity="0.5" stroke-width="10" stroke-linejoin="miter"/>
<path d="M3278.6,1138.5 L3279.1,1232.7" fill="none" stroke="#a2478f" stroke-width="6.6" stroke-linejoin="miter"/>
<path d="M3260,233.5 L3260,337.3" fill="none" stroke="#a88d6e" stroke-width="10" stroke-linejoin="miter"/>
<path d="M3260,233.5 L3260,337.3" fill="none" stroke="#000" stroke-opacity="0.5" stroke-width="10" stroke-linejoin="miter"/>
<path d="M3260,233.5 L3260,337.3" fill="none" stroke="#a88d6e" stroke-width="6.6" stroke-linejoin="miter"/>
<path d="M3260,386 L3260,425.8" fill="none" stroke="#a88d6e" stroke-width="10" stroke-linejoin="miter"/>
<path d="M3260,386 L3260,425.8" fill="none" stroke="#000" stroke-opacity="0.5" stroke-width="10" stroke-linejoin="miter"/>
<path d="M3260,386 L3260,425.8" fill="none" stroke="#a88d6e" stroke-width="6.6" stroke-linejoin="miter"/>
<path d="M3260,475.8 L3260,628.8" fill="none" stroke="#a88d6e" stroke-width="10" stroke-linejoin="miter"/>
<path d="M3260,475.8 L3260,628.8" fill="none" stroke="#000" stroke-opacity="0.5" stroke-width="10" stroke-linejoin="miter"/>
<path d="M3260,475.8 L3260,628.8" fill="none" stroke="#a88d6e" stroke-width="6.6" stroke-linejoin="miter"/>
<path d="M3268,232.5 L3331.4,287 L3331.4,337.3" fill="none" stroke="#a88d6e" stroke-width="10" stroke-linejoin="miter"/>
<path d="M3268,232.5 L3331.4,287 L3331.4,337.3" fill="none" stroke="#000" stroke-opacity="0.5" stroke-width="10" stroke-linejoin="miter"/>
<path d="M3268,232.5 L3331.4,287 L3331.4,337.3" fill="none" stroke="#a88d6e" stroke-width="6.6" stroke-linejoin="miter"/>
<path d="M3331.4,386 L3331.4,425.8" fill="none" stroke="#a88d6e" stroke-width="10" stroke-linejoin="miter"/>
<path d="M3331.4,386 L3331.4,425.8" fill="none" stroke="#000" stroke-opacity="0.5" stroke-width="10" stroke-linejoin="miter"/>
<path d="M3331.4,386 L3331.4,425.8" fill="none" stroke="#a88d6e" stroke-width="6.6" stroke-linejoin="miter"/>
<path d="M3331.4,475.8 L3331.4,570" fill="none" stroke="#a88d6e" stroke-width="10" stroke-linejoin="miter"/>
<path d="M3331.4,475.8 L3331.4,570" fill="none" stroke="#000" stroke-opacity="0.5" stroke-width="10" stroke-linejoin="miter"/>
<path d="M3331.4,475.8 L3331.4,570" fill="none" stroke="#a88d6e" stroke-width="6.6" stroke-linejoin="miter"/><g opacity="0.999"><text transform="translate(129.3 90.8) scale(0.862 1)" font-size="39.6" fill="#1d1d1b" stroke="#1d1d1b" stroke-width="0.5">N15/3</text>
<text transform="translate(1562 91) scale(0.866 1)" font-size="39" fill="#1d1d1b" stroke="#1d1d1b" stroke-width="0.5">N15/3</text>
<text transform="translate(3140.5 91) scale(0.885 1)" font-size="39" fill="#1d1d1b" stroke="#1d1d1b" stroke-width="0.5">N15/3</text>
<circle cx="322.8" cy="159.1" r="23.2" fill="#a9c4d4" stroke="#1d1d1b" stroke-width="3"/>
<line x1="290" y1="159.1" x2="317" y2="159.1" stroke="#1d1d1b" stroke-width="3" />
<line x1="317" y1="146.6" x2="317" y2="172.7" stroke="#1d1d1b" stroke-width="3.2" />
<line x1="317" y1="153.1" x2="334.4" y2="140.6" stroke="#1d1d1b" stroke-width="2.6" />
<line x1="334.4" y1="144.1" x2="334.4" y2="130.6" stroke="#1d1d1b" stroke-width="3" />
<line x1="317" y1="165.1" x2="334.4" y2="177.6" stroke="#1d1d1b" stroke-width="2.6" />
<line x1="334.4" y1="174.1" x2="334.4" y2="187.6" stroke="#1d1d1b" stroke-width="3" />
<polygon points="333.4,176.9 325.4,175.7 329.9,169.4" fill="#1d1d1b"/>
<circle cx="1638.3" cy="159.1" r="23.2" fill="#a9c4d4" stroke="#1d1d1b" stroke-width="3"/>
<line x1="1605.5" y1="159.1" x2="1632.5" y2="159.1" stroke="#1d1d1b" stroke-width="3" />
<line x1="1632.5" y1="146.6" x2="1632.5" y2="172.7" stroke="#1d1d1b" stroke-width="3.2" />
<line x1="1632.5" y1="153.1" x2="1649.9" y2="140.6" stroke="#1d1d1b" stroke-width="2.6" />
<line x1="1649.9" y1="144.1" x2="1649.9" y2="130.6" stroke="#1d1d1b" stroke-width="3" />
<line x1="1632.5" y1="165.1" x2="1649.9" y2="177.6" stroke="#1d1d1b" stroke-width="2.6" />
<line x1="1649.9" y1="174.1" x2="1649.9" y2="187.6" stroke="#1d1d1b" stroke-width="3" />
<polygon points="1648.9,176.9 1640.9,175.7 1645.4,169.4" fill="#1d1d1b"/>
<circle cx="3164.9" cy="159.1" r="23.2" fill="#a9c4d4" stroke="#1d1d1b" stroke-width="3"/>
<line x1="3132.1" y1="159.1" x2="3159.1" y2="159.1" stroke="#1d1d1b" stroke-width="3" />
<line x1="3159.1" y1="146.6" x2="3159.1" y2="172.7" stroke="#1d1d1b" stroke-width="3.2" />
<line x1="3159.1" y1="153.1" x2="3176.5" y2="140.6" stroke="#1d1d1b" stroke-width="2.6" />
<line x1="3176.5" y1="144.1" x2="3176.5" y2="130.6" stroke="#1d1d1b" stroke-width="3" />
<line x1="3159.1" y1="165.1" x2="3176.5" y2="177.6" stroke="#1d1d1b" stroke-width="2.6" />
<line x1="3176.5" y1="174.1" x2="3176.5" y2="187.6" stroke="#1d1d1b" stroke-width="3" />
<polygon points="3175.5,176.9 3167.5,175.7 3172,169.4" fill="#1d1d1b"/>
<line x1="114.5" y1="205.3" x2="114.5" y2="223.5" stroke="#1d1d1b" stroke-width="3" />
<path d="M102.5,221.5 A12,12 0 0 0 126.5,221.5" fill="none" stroke="#1d1d1b" stroke-width="3.5"/>
<text transform="translate(77.7 258.5) scale(0.798 1)" font-size="27.6" fill="#1d1d1b" stroke="#1d1d1b" stroke-width="0.5">38</text>
<line x1="216.8" y1="205.3" x2="216.8" y2="223.5" stroke="#1d1d1b" stroke-width="3" />
<path d="M204.8,221.5 A12,12 0 0 0 228.8,221.5" fill="none" stroke="#1d1d1b" stroke-width="3.5"/>
<text transform="translate(180.1 258.5) scale(0.801 1)" font-size="27.6" fill="#1d1d1b" stroke="#1d1d1b" stroke-width="0.5">36</text>
<line x1="261" y1="205.3" x2="261" y2="223.5" stroke="#1d1d1b" stroke-width="3" />
<path d="M249,221.5 A12,12 0 0 0 273,221.5" fill="none" stroke="#1d1d1b" stroke-width="3.5"/>
<text transform="translate(224.6 258.5) scale(0.774 1)" font-size="27.6" fill="#1d1d1b" stroke="#1d1d1b" stroke-width="0.5">37</text>
<line x1="304.8" y1="205.3" x2="304.8" y2="223.5" stroke="#1d1d1b" stroke-width="3" />
<path d="M292.8,221.5 A12,12 0 0 0 316.8,221.5" fill="none" stroke="#1d1d1b" stroke-width="3.5"/>
<text transform="translate(269.1 258.5) scale(0.782 1)" font-size="28" fill="#1d1d1b" stroke="#1d1d1b" stroke-width="0.5">14</text>
<line x1="351.7" y1="205.3" x2="351.7" y2="223.5" stroke="#1d1d1b" stroke-width="3" />
<path d="M339.7,221.5 A12,12 0 0 0 363.7,221.5" fill="none" stroke="#1d1d1b" stroke-width="3.5"/>
<text transform="translate(316.5 258.5) scale(0.786 1)" font-size="28" fill="#1d1d1b" stroke="#1d1d1b" stroke-width="0.5">15</text>
<line x1="397" y1="205.3" x2="397" y2="223.5" stroke="#1d1d1b" stroke-width="3" />
<path d="M385,221.5 A12,12 0 0 0 409,221.5" fill="none" stroke="#1d1d1b" stroke-width="3.5"/>
<text transform="translate(361.9 258.5) scale(0.797 1)" font-size="27.6" fill="#1d1d1b" stroke="#1d1d1b" stroke-width="0.5">16</text>
<line x1="442" y1="205.3" x2="442" y2="223.5" stroke="#1d1d1b" stroke-width="3" />
<path d="M430,221.5 A12,12 0 0 0 454,221.5" fill="none" stroke="#1d1d1b" stroke-width="3.5"/>
<text transform="translate(406.2 258.5) scale(0.794 1)" font-size="28" fill="#1d1d1b" stroke="#1d1d1b" stroke-width="0.5">17</text>
<line x1="487.5" y1="205.3" x2="487.5" y2="223.5" stroke="#1d1d1b" stroke-width="3" />
<path d="M475.5,221.5 A12,12 0 0 0 499.5,221.5" fill="none" stroke="#1d1d1b" stroke-width="3.5"/>
<text transform="translate(450.3 258.5) scale(0.821 1)" font-size="27.6" fill="#1d1d1b" stroke="#1d1d1b" stroke-width="0.5">34</text>
<line x1="532.5" y1="205.3" x2="532.5" y2="223.5" stroke="#1d1d1b" stroke-width="3" />
<path d="M520.5,221.5 A12,12 0 0 0 544.5,221.5" fill="none" stroke="#1d1d1b" stroke-width="3.5"/>
<text transform="translate(495.3 258.5) scale(0.829 1)" font-size="27.6" fill="#1d1d1b" stroke="#1d1d1b" stroke-width="0.5">35</text>
<line x1="577.7" y1="205.3" x2="577.7" y2="223.5" stroke="#1d1d1b" stroke-width="3" />
<path d="M565.7,221.5 A12,12 0 0 0 589.7,221.5" fill="none" stroke="#1d1d1b" stroke-width="3.5"/>
<text transform="translate(540.9 258.5) scale(0.885 1)" font-size="27.6" fill="#1d1d1b" stroke="#1d1d1b" stroke-width="0.5">12</text>
<line x1="623" y1="205.3" x2="623" y2="223.5" stroke="#1d1d1b" stroke-width="3" />
<path d="M611,221.5 A12,12 0 0 0 635,221.5" fill="none" stroke="#1d1d1b" stroke-width="3.5"/>
<text transform="translate(585.9 258.5) scale(0.876 1)" font-size="27.6" fill="#1d1d1b" stroke="#1d1d1b" stroke-width="0.5">13</text>
<line x1="668" y1="205.3" x2="668" y2="223.5" stroke="#1d1d1b" stroke-width="3" />
<path d="M656,221.5 A12,12 0 0 0 680,221.5" fill="none" stroke="#1d1d1b" stroke-width="3.5"/>
<text transform="translate(631.8 258.5) scale(0.846 1)" font-size="27.6" fill="#1d1d1b" stroke="#1d1d1b" stroke-width="0.5">33</text>
<line x1="722" y1="205.3" x2="722" y2="223.5" stroke="#1d1d1b" stroke-width="3" />
<path d="M710,221.5 A12,12 0 0 0 734,221.5" fill="none" stroke="#1d1d1b" stroke-width="3.5"/>
<text transform="translate(693.5 258.5) scale(0.834 1)" font-size="28" fill="#1d1d1b" stroke="#1d1d1b" stroke-width="0.5">H</text>
<line x1="791" y1="205.3" x2="791" y2="223.5" stroke="#1d1d1b" stroke-width="3" />
<path d="M779,221.5 A12,12 0 0 0 803,221.5" fill="none" stroke="#1d1d1b" stroke-width="3.5"/>
<text transform="translate(761.5 258.5) scale(0.993 1)" font-size="28" fill="#1d1d1b" stroke="#1d1d1b" stroke-width="0.5">L</text>
<line x1="997" y1="205.3" x2="997" y2="223.5" stroke="#1d1d1b" stroke-width="3" />
<path d="M985,221.5 A12,12 0 0 0 1009,221.5" fill="none" stroke="#1d1d1b" stroke-width="3.5"/>
<text transform="translate(971.3 258.5) scale(0.777 1)" font-size="27.6" fill="#1d1d1b" stroke="#1d1d1b" stroke-width="0.5">3</text>
<line x1="1041.8" y1="205.3" x2="1041.8" y2="223.5" stroke="#1d1d1b" stroke-width="3" />
<path d="M1029.8,221.5 A12,12 0 0 0 1053.8,221.5" fill="none" stroke="#1d1d1b" stroke-width="3.5"/>
<text transform="translate(1005.7 258.5) scale(0.782 1)" font-size="27.6" fill="#1d1d1b" stroke="#1d1d1b" stroke-width="0.5">25</text>
<line x1="1085.3" y1="205.3" x2="1085.3" y2="223.5" stroke="#1d1d1b" stroke-width="3" />
<path d="M1073.3,221.5 A12,12 0 0 0 1097.3,221.5" fill="none" stroke="#1d1d1b" stroke-width="3.5"/>
<text transform="translate(1049.9 258.5) scale(0.824 1)" font-size="27.6" fill="#1d1d1b" stroke="#1d1d1b" stroke-width="0.5">26</text>
<line x1="1131.3" y1="205.3" x2="1131.3" y2="223.5" stroke="#1d1d1b" stroke-width="3" />
<path d="M1119.3,221.5 A12,12 0 0 0 1143.3,221.5" fill="none" stroke="#1d1d1b" stroke-width="3.5"/>
<text transform="translate(1095.4 258.5) scale(0.786 1)" font-size="27.6" fill="#1d1d1b" stroke="#1d1d1b" stroke-width="0.5">27</text>
<line x1="1178.6" y1="205.3" x2="1178.6" y2="223.5" stroke="#1d1d1b" stroke-width="3" />
<path d="M1166.6,221.5 A12,12 0 0 0 1190.6,221.5" fill="none" stroke="#1d1d1b" stroke-width="3.5"/>
<text transform="translate(1141.9 258.5) scale(0.782 1)" font-size="27.6" fill="#1d1d1b" stroke="#1d1d1b" stroke-width="0.5">28</text>
<line x1="1536.2" y1="205.3" x2="1536.2" y2="223.5" stroke="#1d1d1b" stroke-width="3" />
<path d="M1524.2,221.5 A12,12 0 0 0 1548.2,221.5" fill="none" stroke="#1d1d1b" stroke-width="3.5"/>
<text transform="translate(1506.2 258.5) scale(0.895 1)" font-size="27.6" fill="#1d1d1b" stroke="#1d1d1b" stroke-width="0.5">9</text>
<line x1="1739" y1="205.3" x2="1739" y2="223.5" stroke="#1d1d1b" stroke-width="3" />
<path d="M1727,221.5 A12,12 0 0 0 1751,221.5" fill="none" stroke="#1d1d1b" stroke-width="3.5"/>
<text transform="translate(1703 258.5) scale(0.923 1)" font-size="27.6" fill="#1d1d1b" stroke="#1d1d1b" stroke-width="0.5">2</text>
<line x1="2013" y1="205.3" x2="2013" y2="223.5" stroke="#1d1d1b" stroke-width="3" />
<path d="M2001,221.5 A12,12 0 0 0 2025,221.5" fill="none" stroke="#1d1d1b" stroke-width="3.5"/>
<text transform="translate(1975.6 258.5) scale(0.875 1)" font-size="27.6" fill="#1d1d1b" stroke="#1d1d1b" stroke-width="0.5">29</text>
<line x1="2645" y1="205.3" x2="2645" y2="223.5" stroke="#1d1d1b" stroke-width="3" />
<path d="M2633,221.5 A12,12 0 0 0 2657,221.5" fill="none" stroke="#1d1d1b" stroke-width="3.5"/>
<text transform="translate(2608.5 258.5) scale(0.890 1)" font-size="28" fill="#1d1d1b" stroke="#1d1d1b" stroke-width="0.5">4</text>
<line x1="2743.5" y1="205.3" x2="2743.5" y2="223.5" stroke="#1d1d1b" stroke-width="3" />
<path d="M2731.5,221.5 A12,12 0 0 0 2755.5,221.5" fill="none" stroke="#1d1d1b" stroke-width="3.5"/>
<text transform="translate(2708.7 258.5) scale(0.650 1)" font-size="28" fill="#1d1d1b" stroke="#1d1d1b" stroke-width="0.5">1</text>
<line x1="3062" y1="205.3" x2="3062" y2="223.5" stroke="#1d1d1b" stroke-width="3" />
<path d="M3050,221.5 A12,12 0 0 0 3074,221.5" fill="none" stroke="#1d1d1b" stroke-width="3.5"/>
<text transform="translate(3025.8 258.5) scale(0.855 1)" font-size="28" fill="#1d1d1b" stroke="#1d1d1b" stroke-width="0.5">7</text>
<line x1="3260" y1="205.3" x2="3260" y2="223.5" stroke="#1d1d1b" stroke-width="3" />
<path d="M3248,221.5 A12,12 0 0 0 3272,221.5" fill="none" stroke="#1d1d1b" stroke-width="3.5"/>
<text transform="translate(3220.3 258.5) scale(0.794 1)" font-size="27.6" fill="#1d1d1b" stroke="#1d1d1b" stroke-width="0.5">30</text>
<text transform="translate(44.7 290.5) scale(0.760 1)" font-size="37.7" fill="#1d1d1b" stroke="#1d1d1b" stroke-width="0.5">1</text>
<text transform="translate(925.9 291.5) scale(0.919 1)" font-size="38.6" fill="#1d1d1b" stroke="#1d1d1b" stroke-width="0.5">2</text>
<text transform="translate(1036.4 199) scale(0.810 1)" font-size="26.7" fill="#1d1d1b" stroke="#1d1d1b" stroke-width="0.5">0</text>
<text transform="translate(1080.3 199) scale(0.587 1)" font-size="27.1" fill="#1d1d1b" stroke="#1d1d1b" stroke-width="0.5">1</text>
<text transform="translate(1125.7 199) scale(0.854 1)" font-size="26.7" fill="#1d1d1b" stroke="#1d1d1b" stroke-width="0.5">2</text>
<text transform="translate(1170.4 199) scale(0.802 1)" font-size="26.7" fill="#1d1d1b" stroke="#1d1d1b" stroke-width="0.5">3</text>
<text transform="translate(1518 199) scale(0.799 1)" font-size="26.7" fill="#1d1d1b" stroke="#1d1d1b" stroke-width="0.5">BLS</text>
<text transform="translate(1730.1 199) scale(0.782 1)" font-size="27.1" fill="#1d1d1b" stroke="#1d1d1b" stroke-width="0.5">KD</text>
<text transform="translate(1980.4 199) scale(0.783 1)" font-size="26.7" fill="#1d1d1b" stroke="#1d1d1b" stroke-width="0.5">87 ABS</text>
<text transform="translate(2630.8 199) scale(0.855 1)" font-size="26" fill="#1d1d1b" stroke="#1d1d1b" stroke-width="0.5">R/P</text>
<text transform="translate(3250 199) scale(0.785 1)" font-size="26.7" fill="#1d1d1b" stroke="#1d1d1b" stroke-width="0.5">31</text>
<text transform="translate(2722.3 199) scale(0.800 1)" font-size="26.5" fill="#1d1d1b" stroke="#1d1d1b" stroke-width="0.5">Diag</text>
<text transform="translate(617 184.8) scale(0.900 1)" font-size="26" fill="#1d1d1b" stroke="#1d1d1b" stroke-width="0.5">+</text>
<line x1="665" y1="178.8" x2="678.5" y2="178.8" stroke="#1d1d1b" stroke-width="2" />
<text transform="translate(1007.8 196.4) rotate(-90) scale(0.820 1)" font-size="26.5" fill="#1d1d1b" stroke="#1d1d1b" stroke-width="0.5">w/s</text>
<text transform="translate(734.9 197) rotate(-90) scale(0.780 1)" font-size="25.5" fill="#1d1d1b" stroke="#1d1d1b" stroke-width="0.5">CAN H</text>
<text transform="translate(799.5 197) rotate(-90) scale(0.780 1)" font-size="25.5" fill="#1d1d1b" stroke="#1d1d1b" stroke-width="0.5">CAN L</text>
<text transform="translate(88.7 431.2) scale(0.745 1)" font-size="35.7" fill="#1d1d1b" stroke="#1d1d1b" stroke-width="0.5">0,75</text>
<text transform="translate(197.9 431.2) scale(0.768 1)" font-size="35.7" fill="#1d1d1b" stroke="#1d1d1b" stroke-width="0.5">0,5</text>
<text transform="translate(242.1 371.9) scale(0.768 1)" font-size="35.7" fill="#1d1d1b" stroke="#1d1d1b" stroke-width="0.5">0,5</text>
<text transform="translate(285.9 431.2) scale(0.768 1)" font-size="35.7" fill="#1d1d1b" stroke="#1d1d1b" stroke-width="0.5">0,5</text>
<text transform="translate(332.8 371.9) scale(0.768 1)" font-size="35.7" fill="#1d1d1b" stroke="#1d1d1b" stroke-width="0.5">0,5</text>
<text transform="translate(378.1 431.2) scale(0.768 1)" font-size="35.7" fill="#1d1d1b" stroke="#1d1d1b" stroke-width="0.5">0,5</text>
<text transform="translate(423.1 371.9) scale(0.768 1)" font-size="35.7" fill="#1d1d1b" stroke="#1d1d1b" stroke-width="0.5">0,5</text>
<text transform="translate(468.6 431.2) scale(0.768 1)" font-size="35.7" fill="#1d1d1b" stroke="#1d1d1b" stroke-width="0.5">0,5</text>
<text transform="translate(513.6 371.9) scale(0.768 1)" font-size="35.7" fill="#1d1d1b" stroke="#1d1d1b" stroke-width="0.5">0,5</text>
<text transform="translate(558.8 431.2) scale(0.768 1)" font-size="35.7" fill="#1d1d1b" stroke="#1d1d1b" stroke-width="0.5">0,5</text>
<text transform="translate(604.1 371.9) scale(0.768 1)" font-size="35.7" fill="#1d1d1b" stroke="#1d1d1b" stroke-width="0.5">0,5</text>
<text transform="translate(649.1 431.2) scale(0.768 1)" font-size="35.7" fill="#1d1d1b" stroke="#1d1d1b" stroke-width="0.5">0,5</text>
<text transform="translate(703.1 371.9) scale(0.768 1)" font-size="35.7" fill="#1d1d1b" stroke="#1d1d1b" stroke-width="0.5">0,5</text>
<text transform="translate(772.1 431.2) scale(0.768 1)" font-size="35.7" fill="#1d1d1b" stroke="#1d1d1b" stroke-width="0.5">0,5</text>
<polygon points="709.4,479.3 735.8,479.3 722.6,521" fill="#1d1d1b" stroke="none" stroke-width="2" />
<polygon points="778.6,479.3 805,479.3 791.8,521" fill="#1d1d1b" stroke="none" stroke-width="2" />
<path d="M711.5,526 C713.5,530.5 718,531.5 728,531.5 L748,531.5 C753.5,531.5 756.5,533 758.3,536.5 C760.1,533 763,531.5 768.6,531.5 L789,531.5 C799,531.5 803.2,530.5 805.2,526" fill="none" stroke="#1d1d1b" stroke-width="4.4" stroke-linejoin="round"/>
<text transform="translate(729.8 583.8) scale(0.719 1)" font-size="41.6" fill="#1d1d1b" stroke="#1d1d1b" stroke-width="0.5">CAN</text>
<text transform="translate(88.5 900.3) scale(1.031 1)" font-size="26" fill="#1d1d1b" stroke="#1d1d1b" stroke-width="0.5">6</text>
<text transform="translate(190.9 900.3) scale(1.045 1)" font-size="26" fill="#1d1d1b" stroke="#1d1d1b" stroke-width="0.5">2</text>
<text transform="translate(227.8 900.3) scale(0.849 1)" font-size="26" fill="#1d1d1b" stroke="#1d1d1b" stroke-width="0.5">10</text>
<text transform="translate(272.2 900.3) scale(0.864 1)" font-size="26" fill="#1d1d1b" stroke="#1d1d1b" stroke-width="0.5">13</text>
<text transform="translate(324.1 900.3) scale(1.031 1)" font-size="26" fill="#1d1d1b" stroke="#1d1d1b" stroke-width="0.5">9</text>
<text transform="translate(371 900.3) scale(1.002 1)" font-size="26" fill="#1d1d1b" stroke="#1d1d1b" stroke-width="0.5">8</text>
<text transform="translate(408.1 900.3) scale(0.886 1)" font-size="26.4" fill="#1d1d1b" stroke="#1d1d1b" stroke-width="0.5">11</text>
<text transform="translate(461.3 900.3) scale(0.981 1)" font-size="26.4" fill="#1d1d1b" stroke="#1d1d1b" stroke-width="0.5">4</text>
<text transform="translate(505 900.3) scale(0.931 1)" font-size="26.4" fill="#1d1d1b" stroke="#1d1d1b" stroke-width="0.5">1</text>
<text transform="translate(549 900.3) scale(1.044 1)" font-size="26" fill="#1d1d1b" stroke="#1d1d1b" stroke-width="0.5">3</text>
<text transform="translate(595.1 900.3) scale(1.096 1)" font-size="26.4" fill="#1d1d1b" stroke="#1d1d1b" stroke-width="0.5">7</text>
<text transform="translate(633.7 900.3) scale(0.923 1)" font-size="26" fill="#1d1d1b" stroke="#1d1d1b" stroke-width="0.5">12</text>
<path d="M102.5,916 A12,12 0 0 1 126.5,916" fill="none" stroke="#1d1d1b" stroke-width="3.5"/>
<path d="M204.8,916 A12,12 0 0 1 228.8,916" fill="none" stroke="#1d1d1b" stroke-width="3.5"/>
<path d="M249,916 A12,12 0 0 1 273,916" fill="none" stroke="#1d1d1b" stroke-width="3.5"/>
<path d="M292.8,916 A12,12 0 0 1 316.8,916" fill="none" stroke="#1d1d1b" stroke-width="3.5"/>
<path d="M339.7,916 A12,12 0 0 1 363.7,916" fill="none" stroke="#1d1d1b" stroke-width="3.5"/>
<path d="M385,916 A12,12 0 0 1 409,916" fill="none" stroke="#1d1d1b" stroke-width="3.5"/>
<path d="M430,916 A12,12 0 0 1 454,916" fill="none" stroke="#1d1d1b" stroke-width="3.5"/>
<path d="M475.5,916 A12,12 0 0 1 499.5,916" fill="none" stroke="#1d1d1b" stroke-width="3.5"/>
<path d="M520.5,916 A12,12 0 0 1 544.5,916" fill="none" stroke="#1d1d1b" stroke-width="3.5"/>
<path d="M565.7,916 A12,12 0 0 1 589.7,916" fill="none" stroke="#1d1d1b" stroke-width="3.5"/>
<path d="M611,916 A12,12 0 0 1 635,916" fill="none" stroke="#1d1d1b" stroke-width="3.5"/>
<path d="M656,916 A12,12 0 0 1 680,916" fill="none" stroke="#1d1d1b" stroke-width="3.5"/>
<polyline points="114.5,906 114.5,1329 168,1329" fill="none" stroke="#1d1d1b" stroke-width="3" stroke-linejoin="miter" />
<line x1="114.5" y1="993.6" x2="168" y2="993.6" stroke="#1d1d1b" stroke-width="3" />
<circle cx="114.5" cy="993.6" r="5" fill="#1d1d1b"/>
<polyline points="188.5,993.6 216.8,993.6 216.8,906" fill="none" stroke="#1d1d1b" stroke-width="3" stroke-linejoin="miter" />
<rect x="168.5" y="976.1" width="19.5" height="35" fill="#b0c5d2" stroke="#1d1d1b" stroke-width="2.6" />
<line x1="169.8" y1="1001.6" x2="186.8" y2="986.6" stroke="#1d1d1b" stroke-width="2.6" />
<line x1="174.3" y1="960.6" x2="174.3" y2="975.1" stroke="#1d1d1b" stroke-width="2.4" />
<line x1="181.1" y1="960.6" x2="181.1" y2="975.1" stroke="#1d1d1b" stroke-width="2.4" />
<polygon points="163.2,948.6 163.2,966.6 178.4,957.4 193.9,948.6 193.9,966.6 178.4,957.4" fill="none" stroke="#1d1d1b" stroke-width="2.6" stroke-linejoin="round"/>
<text transform="translate(128.6 979.4) scale(0.683 1)" font-size="35.8" fill="#1d1d1b" stroke="#1d1d1b" stroke-width="0.5">y1</text>
<line x1="114.5" y1="1060.4" x2="168" y2="1060.4" stroke="#1d1d1b" stroke-width="3" />
<circle cx="114.5" cy="1060.4" r="5" fill="#1d1d1b"/>
<polyline points="188.5,1060.4 261,1060.4 261,906" fill="none" stroke="#1d1d1b" stroke-width="3" stroke-linejoin="miter" />
<rect x="168.5" y="1042.9" width="19.5" height="35" fill="#b0c5d2" stroke="#1d1d1b" stroke-width="2.6" />
<line x1="169.8" y1="1068.4" x2="186.8" y2="1053.4" stroke="#1d1d1b" stroke-width="2.6" />
<line x1="174.3" y1="1027.4" x2="174.3" y2="1041.9" stroke="#1d1d1b" stroke-width="2.4" />
<line x1="181.1" y1="1027.4" x2="181.1" y2="1041.9" stroke="#1d1d1b" stroke-width="2.4" />
<polygon points="163.2,1015.4 163.2,1033.4 178.4,1024.2 193.9,1015.4 193.9,1033.4 178.4,1024.2" fill="none" stroke="#1d1d1b" stroke-width="2.6" stroke-linejoin="round"/>
<text transform="translate(128.6 1046.2) scale(0.693 1)" font-size="35.3" fill="#1d1d1b" stroke="#1d1d1b" stroke-width="0.5">y2</text>
<line x1="114.5" y1="1127.2" x2="168" y2="1127.2" stroke="#1d1d1b" stroke-width="3" />
<circle cx="114.5" cy="1127.2" r="5" fill="#1d1d1b"/>
<polyline points="188.5,1127.2 304.8,1127.2 304.8,906" fill="none" stroke="#1d1d1b" stroke-width="3" stroke-linejoin="miter" />
<rect x="168.5" y="1109.7" width="19.5" height="35" fill="#b0c5d2" stroke="#1d1d1b" stroke-width="2.6" />
<line x1="169.8" y1="1135.2" x2="186.8" y2="1120.2" stroke="#1d1d1b" stroke-width="2.6" />
<line x1="174.3" y1="1094.2" x2="174.3" y2="1108.7" stroke="#1d1d1b" stroke-width="2.4" />
<line x1="181.1" y1="1094.2" x2="181.1" y2="1108.7" stroke="#1d1d1b" stroke-width="2.4" />
<polygon points="163.2,1082.2 163.2,1100.2 178.4,1091 193.9,1082.2 193.9,1100.2 178.4,1091" fill="none" stroke="#1d1d1b" stroke-width="2.6" stroke-linejoin="round"/>
<text transform="translate(128.6 1113) scale(0.686 1)" font-size="35.3" fill="#1d1d1b" stroke="#1d1d1b" stroke-width="0.5">y3</text>
<line x1="114.5" y1="1195.7" x2="168" y2="1195.7" stroke="#1d1d1b" stroke-width="3" />
<circle cx="114.5" cy="1195.7" r="5" fill="#1d1d1b"/>
<polyline points="188.5,1195.7 351.7,1195.7 351.7,906" fill="none" stroke="#1d1d1b" stroke-width="3" stroke-linejoin="miter" />
<rect x="168.5" y="1178.2" width="19.5" height="35" fill="#b0c5d2" stroke="#1d1d1b" stroke-width="2.6" />
<line x1="169.8" y1="1203.7" x2="186.8" y2="1188.7" stroke="#1d1d1b" stroke-width="2.6" />
<line x1="174.3" y1="1162.7" x2="174.3" y2="1177.2" stroke="#1d1d1b" stroke-width="2.4" />
<line x1="181.1" y1="1162.7" x2="181.1" y2="1177.2" stroke="#1d1d1b" stroke-width="2.4" />
<polygon points="163.2,1150.7 163.2,1168.7 178.4,1159.5 193.9,1150.7 193.9,1168.7 178.4,1159.5" fill="none" stroke="#1d1d1b" stroke-width="2.6" stroke-linejoin="round"/>
<text transform="translate(128.6 1181.5) scale(0.670 1)" font-size="35.8" fill="#1d1d1b" stroke="#1d1d1b" stroke-width="0.5">y4</text>
<line x1="114.5" y1="1261" x2="168" y2="1261" stroke="#1d1d1b" stroke-width="3" />
<circle cx="114.5" cy="1261" r="5" fill="#1d1d1b"/>
<polyline points="188.5,1261 397,1261 397,906" fill="none" stroke="#1d1d1b" stroke-width="3" stroke-linejoin="miter" />
<rect x="168.5" y="1243.5" width="19.5" height="35" fill="#b0c5d2" stroke="#1d1d1b" stroke-width="2.6" />
<line x1="169.8" y1="1269" x2="186.8" y2="1254" stroke="#1d1d1b" stroke-width="2.6" />
<line x1="174.3" y1="1228" x2="174.3" y2="1242.5" stroke="#1d1d1b" stroke-width="2.4" />
<line x1="181.1" y1="1228" x2="181.1" y2="1242.5" stroke="#1d1d1b" stroke-width="2.4" />
<polygon points="163.2,1216 163.2,1234 178.4,1224.8 193.9,1216 193.9,1234 178.4,1224.8" fill="none" stroke="#1d1d1b" stroke-width="2.6" stroke-linejoin="round"/>
<text transform="translate(128.6 1246.8) scale(0.676 1)" font-size="35.8" fill="#1d1d1b" stroke="#1d1d1b" stroke-width="0.5">y5</text>
<polyline points="188.5,1329 442,1329 442,906" fill="none" stroke="#1d1d1b" stroke-width="3" stroke-linejoin="miter" />
<rect x="168.5" y="1311.5" width="19.5" height="35" fill="#b0c5d2" stroke="#1d1d1b" stroke-width="2.6" />
<line x1="169.8" y1="1337" x2="186.8" y2="1322" stroke="#1d1d1b" stroke-width="2.6" />
<line x1="174.3" y1="1296" x2="174.3" y2="1310.5" stroke="#1d1d1b" stroke-width="2.4" />
<line x1="181.1" y1="1296" x2="181.1" y2="1310.5" stroke="#1d1d1b" stroke-width="2.4" />
<polygon points="163.2,1284 163.2,1302 178.4,1292.8 193.9,1284 193.9,1302 178.4,1292.8" fill="none" stroke="#1d1d1b" stroke-width="2.6" stroke-linejoin="round"/>
<text transform="translate(128.6 1314.8) scale(0.686 1)" font-size="35.3" fill="#1d1d1b" stroke="#1d1d1b" stroke-width="0.5">y6</text>
<line x1="487.5" y1="906" x2="487.5" y2="957.5" stroke="#1d1d1b" stroke-width="3" />
<line x1="487.5" y1="1006.5" x2="487.5" y2="1327.5" stroke="#1d1d1b" stroke-width="3" />
<circle cx="487.5" cy="962.2" r="4.6" fill="#fff" stroke="#1d1d1b" stroke-width="2.6"/>
<circle cx="487.5" cy="1002.2" r="4.6" fill="#fff" stroke="#1d1d1b" stroke-width="2.6"/>
<line x1="488" y1="999" x2="502.5" y2="964" stroke="#1d1d1b" stroke-width="4.2" />
<text transform="translate(451.5 993.3) scale(0.746 1)" font-size="35.2" fill="#1d1d1b" stroke="#1d1d1b" stroke-width="0.5">s1</text>
<rect x="478" y="1043" width="20" height="38" fill="#b0c5d2" stroke="#1d1d1b" stroke-width="2.6" />
<line x1="467" y1="1081.5" x2="512" y2="1049.5" stroke="#1d1d1b" stroke-width="2.8" />
<polygon points="518.5,1045 503.5,1049 510.5,1058" fill="#1d1d1b" stroke="none" stroke-width="2" />
<text transform="translate(448.1 1058) scale(0.713 1)" font-size="31.9" fill="#1d1d1b" stroke="#1d1d1b" stroke-width="0.5">b1</text>
<polyline points="487.5,1327.5 668,1327.5 668,906" fill="none" stroke="#1d1d1b" stroke-width="3" stroke-linejoin="miter" />
<line x1="532.5" y1="906" x2="532.5" y2="1327.5" stroke="#1d1d1b" stroke-width="3" />
<line x1="577.7" y1="906" x2="577.7" y2="1327.5" stroke="#1d1d1b" stroke-width="3" />
<circle cx="532.5" cy="1327.5" r="5" fill="#1d1d1b"/>
<circle cx="577.7" cy="1327.5" r="5" fill="#1d1d1b"/>
<rect x="499" y="1125.5" width="65.3" height="64.9" fill="none" stroke="#1d1d1b" stroke-width="2.8" />
<line x1="518" y1="1142" x2="518" y2="1175" stroke="#1d1d1b" stroke-width="3" />
<rect x="527" y="1143.5" width="13.6" height="30.5" fill="#1d1d1b" stroke="none" stroke-width="2" />
<rect x="543.5" y="1221.7" width="65.8" height="64.7" fill="none" stroke="#1d1d1b" stroke-width="2.8" />
<line x1="563" y1="1239" x2="563" y2="1269.6" stroke="#1d1d1b" stroke-width="3" />
<rect x="572" y="1239" width="13" height="30.6" fill="#1d1d1b" stroke="none" stroke-width="2" />
<line x1="564.3" y1="1158" x2="623" y2="1158" stroke="#1d1d1b" stroke-width="3" />
<circle cx="623" cy="1158" r="5" fill="#1d1d1b"/>
<polyline points="623,906 623,1253.6 609.3,1253.6" fill="none" stroke="#1d1d1b" stroke-width="3" stroke-linejoin="miter" />
<text transform="translate(496 1227.5) scale(0.935 1)" font-size="30.7" fill="#1d1d1b" stroke="#1d1d1b" stroke-width="0.5">n3</text>
<text transform="translate(540.9 1320) scale(1.005 1)" font-size="28.6" fill="#1d1d1b" stroke="#1d1d1b" stroke-width="0.5">n2</text>
<text transform="translate(344.8 1398.2) scale(0.760 1)" font-size="39.9" fill="#1d1d1b" stroke="#1d1d1b" stroke-width="0.5">Y3/6</text>
<polygon points="756,781.4 846.6,781.4 849.6,789 845.6,800.5 849.6,811.9 849.6,814.5 845.6,825.9 849.6,837.4 846.6,845 756,845" fill="#e4e4e4" stroke="none" stroke-width="2" />
<polyline points="846.6,845 756,845 756,781.4 846.6,781.4 849.6,789 845.6,800.5 849.6,811.9 849.6,814.5 845.6,825.9 849.6,837.4 846.6,845" fill="none" stroke="#1d1d1b" stroke-width="2.4" stroke-linejoin="miter" />
<line x1="836.5" y1="783.4" x2="836.5" y2="843" stroke="#1d1d1b" stroke-width="2.6" stroke-dasharray="4 3"/>
<line x1="807.7" y1="814" x2="848.6" y2="814" stroke="#1d1d1b" stroke-width="3" />
<line x1="799.7" y1="822" x2="799.7" y2="845" stroke="#1d1d1b" stroke-width="3.2" />
<circle cx="799.7" cy="814" r="8" fill="#fff" stroke="#1d1d1b" stroke-width="3"/>
<text transform="translate(764.5 809.6) scale(0.986 1)" font-size="30.9" fill="#1d1d1b" stroke="#1d1d1b" stroke-width="0.5">2</text>
<text transform="translate(764.3 835.6) scale(0.819 1)" font-size="21.2" fill="#1d1d1b" stroke="#1d1d1b" stroke-width="0.5">15</text>
<text transform="translate(702.6 890.5) scale(0.815 1)" font-size="38.2" fill="#1d1d1b" stroke="#1d1d1b" stroke-width="0.5">X12/5</text>
<text transform="translate(835.5 890.5) scale(0.835 1)" font-size="38.2" fill="#1d1d1b" stroke="#1d1d1b" stroke-width="0.5">Z81/4</text>
<text transform="translate(781.4 1138.2) scale(0.768 1)" font-size="35.7" fill="#1d1d1b" stroke="#1d1d1b" stroke-width="0.5">0,5</text>
<text transform="translate(935.1 1087) scale(0.768 1)" font-size="35.7" fill="#1d1d1b" stroke="#1d1d1b" stroke-width="0.5">0,5</text>
<polygon points="954,827.7 975,848.7 954,869.7 933,848.7" fill="#e4e4e4" stroke="#1d1d1b" stroke-width="3" stroke-linejoin="miter"/>
<line x1="954" y1="848.7" x2="954" y2="869.7" stroke="#1d1d1b" stroke-width="3" />
<circle cx="954" cy="848.7" r="5.2" fill="#1d1d1b"/>
<text transform="translate(971.2 1138.2) scale(0.745 1)" font-size="35.7" fill="#1d1d1b" stroke="#1d1d1b" stroke-width="0.5">0,35</text>
<text transform="translate(1016 1087) scale(0.745 1)" font-size="35.7" fill="#1d1d1b" stroke="#1d1d1b" stroke-width="0.5">0,35</text>
<text transform="translate(1059.5 1138.2) scale(0.745 1)" font-size="35.7" fill="#1d1d1b" stroke="#1d1d1b" stroke-width="0.5">0,35</text>
<text transform="translate(1105.5 1087) scale(0.745 1)" font-size="35.7" fill="#1d1d1b" stroke="#1d1d1b" stroke-width="0.5">0,35</text>
<text transform="translate(1152.8 1138.2) scale(0.745 1)" font-size="35.7" fill="#1d1d1b" stroke="#1d1d1b" stroke-width="0.5">0,35</text>
<path d="M1211.3,688.4 L1282.9,688.4 M1354.5,688.4 L1282.9,688.4 M1354.5,688.4 L1354.5,822 M1354.5,955.7 L1354.5,822 M1354.5,955.7 L1282.9,955.7 M1211.3,955.7 L1282.9,955.7 M1211.3,955.7 L1211.3,822 M1211.3,688.4 L1211.3,822" fill="none" stroke="#1d1d1b" stroke-width="3" stroke-dasharray="18 8 5 8" stroke-linecap="round"/>
<text transform="translate(1224.2 732.5) scale(0.858 1)" font-size="37.3" fill="#1d1d1b" stroke="#1d1d1b" stroke-width="0.5">U12</text>
<text transform="translate(1224.1 777) scale(0.877 1)" font-size="36.1" fill="#1d1d1b" stroke="#1d1d1b" stroke-width="0.5">(U13)</text>
<text transform="translate(1233.6 831) scale(0.787 1)" font-size="38.2" fill="#1d1d1b" stroke="#1d1d1b" stroke-width="0.5">W15/1</text>
<text transform="translate(1233.2 874.5) scale(0.764 1)" font-size="40.3" fill="#1d1d1b" stroke="#1d1d1b" stroke-width="0.5">(W15/2)</text>
<text transform="translate(1267.5 1138.2) scale(0.768 1)" font-size="35.7" fill="#1d1d1b" stroke="#1d1d1b" stroke-width="0.5">0,5</text>
<text transform="translate(1641.7 1139) scale(0.768 1)" font-size="35.7" fill="#1d1d1b" stroke="#1d1d1b" stroke-width="0.5">0,5</text>
<line x1="1272.8" y1="890.4" x2="1301" y2="890.4" stroke="#1d1d1b" stroke-width="5.2" />
<text transform="translate(1553.7 1138.3) scale(0.745 1)" font-size="35.7" fill="#1d1d1b" stroke="#1d1d1b" stroke-width="0.5">0,75</text>
<text transform="translate(1508.4 1087) scale(0.768 1)" font-size="35.7" fill="#1d1d1b" stroke="#1d1d1b" stroke-width="0.5">0,5</text>
<text transform="translate(1714.8 1138.3) scale(0.745 1)" font-size="35.7" fill="#1d1d1b" stroke="#1d1d1b" stroke-width="0.5">0,75</text>
<path d="M788.3,1225.3 A12,12 0 0 1 812.3,1225.3" fill="none" stroke="#1d1d1b" stroke-width="3.5"/>
<line x1="800.3" y1="1224" x2="800.3" y2="1243" stroke="#1d1d1b" stroke-width="3" />
<path d="M942,1225.3 A12,12 0 0 1 966,1225.3" fill="none" stroke="#1d1d1b" stroke-width="3.5"/>
<line x1="954" y1="1224" x2="954" y2="1243" stroke="#1d1d1b" stroke-width="3" />
<path d="M985,1225.3 A12,12 0 0 1 1009,1225.3" fill="none" stroke="#1d1d1b" stroke-width="3.5"/>
<line x1="997" y1="1224" x2="997" y2="1243" stroke="#1d1d1b" stroke-width="3" />
<path d="M1029.8,1225.3 A12,12 0 0 1 1053.8,1225.3" fill="none" stroke="#1d1d1b" stroke-width="3.5"/>
<line x1="1041.8" y1="1224" x2="1041.8" y2="1243" stroke="#1d1d1b" stroke-width="3" />
<path d="M1073.3,1225.3 A12,12 0 0 1 1097.3,1225.3" fill="none" stroke="#1d1d1b" stroke-width="3.5"/>
<line x1="1085.3" y1="1224" x2="1085.3" y2="1243" stroke="#1d1d1b" stroke-width="3" />
<path d="M1119.3,1225.3 A12,12 0 0 1 1143.3,1225.3" fill="none" stroke="#1d1d1b" stroke-width="3.5"/>
<line x1="1131.3" y1="1224" x2="1131.3" y2="1243" stroke="#1d1d1b" stroke-width="3" />
<path d="M1166.6,1225.3 A12,12 0 0 1 1190.6,1225.3" fill="none" stroke="#1d1d1b" stroke-width="3.5"/>
<line x1="1178.6" y1="1224" x2="1178.6" y2="1243" stroke="#1d1d1b" stroke-width="3" />
<path d="M1274.4,1225.3 A12,12 0 0 1 1298.4,1225.3" fill="none" stroke="#1d1d1b" stroke-width="3.5"/>
<line x1="1286.4" y1="1224" x2="1286.4" y2="1243" stroke="#1d1d1b" stroke-width="3" />
<text transform="translate(779.8 1220) scale(0.636 1)" font-size="26.1" fill="#1d1d1b" stroke="#1d1d1b" stroke-width="0.5">1</text>
<text transform="translate(926.1 1220) scale(0.808 1)" font-size="26.1" fill="#1d1d1b" stroke="#1d1d1b" stroke-width="0.5">7</text>
<text transform="translate(969.5 1220) scale(0.913 1)" font-size="25.7" fill="#1d1d1b" stroke="#1d1d1b" stroke-width="0.5">2</text>
<text transform="translate(1016.2 1220) scale(0.857 1)" font-size="26.1" fill="#1d1d1b" stroke="#1d1d1b" stroke-width="0.5">4</text>
<text transform="translate(1060.5 1220) scale(0.775 1)" font-size="26.1" fill="#1d1d1b" stroke="#1d1d1b" stroke-width="0.5">5</text>
<text transform="translate(1105.2 1220) scale(0.794 1)" font-size="25.7" fill="#1d1d1b" stroke="#1d1d1b" stroke-width="0.5">9</text>
<text transform="translate(1146.9 1220) scale(0.743 1)" font-size="25.7" fill="#1d1d1b" stroke="#1d1d1b" stroke-width="0.5">10</text>
<text transform="translate(1257.3 1220) scale(0.873 1)" font-size="25.7" fill="#1d1d1b" stroke="#1d1d1b" stroke-width="0.5">3</text>
<text transform="translate(790.7 1269.6) scale(0.800 1)" font-size="26.4" fill="#1d1d1b" stroke="#1d1d1b" stroke-width="0.5">15</text>
<text transform="translate(937.1 1269.6) scale(0.800 1)" font-size="25.3" fill="#1d1d1b" stroke="#1d1d1b" stroke-width="0.5">58d</text>
<text transform="translate(986.2 1269.6) scale(0.800 1)" font-size="25.3" fill="#1d1d1b" stroke="#1d1d1b" stroke-width="0.5">w/s</text>
<text transform="translate(1275.6 1269.6) scale(0.800 1)" font-size="26" fill="#1d1d1b" stroke="#1d1d1b" stroke-width="0.5">31</text>
<circle cx="1048" cy="1297.8" r="23" fill="#a9c4d4" stroke="#1d1d1b" stroke-width="3"/>
<line x1="1015.5" y1="1297.8" x2="1042.2" y2="1297.8" stroke="#1d1d1b" stroke-width="3" />
<line x1="1042.2" y1="1285.4" x2="1042.2" y2="1311.3" stroke="#1d1d1b" stroke-width="3.2" />
<line x1="1042.2" y1="1291.9" x2="1059.5" y2="1279.5" stroke="#1d1d1b" stroke-width="2.6" />
<line x1="1059.5" y1="1282.9" x2="1059.5" y2="1269.5" stroke="#1d1d1b" stroke-width="3" />
<line x1="1042.2" y1="1303.7" x2="1059.5" y2="1316.1" stroke="#1d1d1b" stroke-width="2.6" />
<line x1="1059.5" y1="1312.7" x2="1059.5" y2="1326.1" stroke="#1d1d1b" stroke-width="3" />
<polygon points="1058.5,1315.4 1050.6,1314.3 1055,1308" fill="#1d1d1b"/>
<text transform="translate(1043.8 1391.5) scale(0.830 1)" font-size="38.8" fill="#1d1d1b" stroke="#1d1d1b" stroke-width="0.5">S16/10</text>
<text transform="translate(751.2 1192) scale(0.750 1)" font-size="33.3" fill="#1d1d1b" stroke="#1d1d1b" stroke-width="0.5">1</text>
<text transform="translate(1325.4 1191.5) scale(0.981 1)" font-size="32.1" fill="#1d1d1b" stroke="#1d1d1b" stroke-width="0.5">2</text>
<text transform="translate(1452 1225.4) scale(1.041 1)" font-size="27.2" fill="#1d1d1b" stroke="#1d1d1b" stroke-width="0.5">A</text>
<text transform="translate(1376.6 1386.1) scale(0.694 1)" font-size="36.1" fill="#1d1d1b" stroke="#1d1d1b" stroke-width="0.5">s1</text>
<text transform="translate(1351.8 1220.4) scale(0.552 1)" font-size="25.5" fill="#1d1d1b" stroke="#1d1d1b" stroke-width="0.5">1</text>
<text transform="translate(1392.9 1220.4) scale(0.865 1)" font-size="25.1" fill="#1d1d1b" stroke="#1d1d1b" stroke-width="0.5">2</text>
<path d="M1362.6,1226 A12,12 0 0 1 1386.6,1226" fill="none" stroke="#1d1d1b" stroke-width="3.5"/>
<path d="M1409,1226 A12,12 0 0 1 1433,1226" fill="none" stroke="#1d1d1b" stroke-width="3.5"/>
<line x1="1374.6" y1="1216" x2="1374.6" y2="1260.3" stroke="#1d1d1b" stroke-width="3" />
<polyline points="1375.4,1309.6 1375.4,1327 1421,1327 1421,1216" fill="none" stroke="#1d1d1b" stroke-width="3" stroke-linejoin="miter" />
<circle cx="1375.4" cy="1264.9" r="4.6" fill="#fff" stroke="#1d1d1b" stroke-width="2.8"/>
<circle cx="1375.4" cy="1305" r="4.6" fill="#fff" stroke="#1d1d1b" stroke-width="2.8"/>
<line x1="1362" y1="1303" x2="1374.5" y2="1272" stroke="#1d1d1b" stroke-width="4.8" />
<circle cx="1333.4" cy="1285" r="4.6" fill="#fff" stroke="#1d1d1b" stroke-width="2.8"/>
<line x1="1338" y1="1282.5" x2="1367" y2="1282.5" stroke="#1d1d1b" stroke-width="2.2" />
<line x1="1338" y1="1288" x2="1365" y2="1288" stroke="#1d1d1b" stroke-width="2.2" />
<path d="M1512.6,1243.7 A12,12 0 0 1 1536.6,1243.7" fill="none" stroke="#1d1d1b" stroke-width="3.5"/>
<line x1="1524.6" y1="1233" x2="1524.6" y2="1260.6" stroke="#1d1d1b" stroke-width="3" />
<path d="M1565.1,1243.7 A12,12 0 0 1 1589.1,1243.7" fill="none" stroke="#1d1d1b" stroke-width="3.5"/>
<line x1="1577.1" y1="1233" x2="1577.1" y2="1260.6" stroke="#1d1d1b" stroke-width="3" />
<text transform="translate(1487.5 1239) scale(0.755 1)" font-size="27.5" fill="#1d1d1b" stroke="#1d1d1b" stroke-width="0.5">15</text>
<text transform="translate(1549.7 1239) scale(0.660 1)" font-size="27.5" fill="#1d1d1b" stroke="#1d1d1b" stroke-width="0.5">1</text>
<circle cx="1542.5" cy="1308.3" r="22" fill="#a9c4d4" stroke="#1d1d1b" stroke-width="3"/>
<line x1="1511.4" y1="1308.3" x2="1537" y2="1308.3" stroke="#1d1d1b" stroke-width="3" />
<line x1="1537" y1="1296.4" x2="1537" y2="1321.2" stroke="#1d1d1b" stroke-width="3.2" />
<line x1="1537" y1="1302.6" x2="1553.5" y2="1290.8" stroke="#1d1d1b" stroke-width="2.6" />
<line x1="1553.5" y1="1294.1" x2="1553.5" y2="1281.3" stroke="#1d1d1b" stroke-width="3" />
<line x1="1537" y1="1314" x2="1553.5" y2="1325.8" stroke="#1d1d1b" stroke-width="2.6" />
<line x1="1553.5" y1="1322.5" x2="1553.5" y2="1335.3" stroke="#1d1d1b" stroke-width="3" />
<polygon points="1552.6,1325.2 1545,1324 1549.2,1318.1" fill="#1d1d1b"/>
<text transform="translate(1504.3 1391.5) scale(0.773 1)" font-size="38.9" fill="#1d1d1b" stroke="#1d1d1b" stroke-width="0.5">N7/1</text>
<path d="M1646.6,1243.7 A12,12 0 0 1 1670.6,1243.7" fill="none" stroke="#1d1d1b" stroke-width="3.5"/>
<path d="M1727,1243.7 A12,12 0 0 1 1751,1243.7" fill="none" stroke="#1d1d1b" stroke-width="3.5"/>
<polyline points="1658.6,1234 1658.6,1281 1674.8,1281" fill="none" stroke="#1d1d1b" stroke-width="3" stroke-linejoin="miter" />
<polyline points="1739,1234 1739,1281 1722.9,1281" fill="none" stroke="#1d1d1b" stroke-width="3" stroke-linejoin="miter" />
<circle cx="1679.4" cy="1281.2" r="4.6" fill="#fff" stroke="#1d1d1b" stroke-width="2.8"/>
<circle cx="1718.3" cy="1281" r="4.6" fill="#fff" stroke="#1d1d1b" stroke-width="2.8"/>
<line x1="1681" y1="1283" x2="1717.5" y2="1295" stroke="#1d1d1b" stroke-width="4.8" />
<line x1="1697" y1="1292" x2="1697" y2="1329.7" stroke="#1d1d1b" stroke-width="2.4" />
<line x1="1702.5" y1="1294" x2="1702.5" y2="1329.7" stroke="#1d1d1b" stroke-width="2.4" />
<line x1="1689.4" y1="1329.7" x2="1712" y2="1329.7" stroke="#1d1d1b" stroke-width="3.4" />
<text transform="translate(1637.1 1239.2) scale(0.459 1)" font-size="27.2" fill="#1d1d1b" stroke="#1d1d1b" stroke-width="0.5">1</text>
<text transform="translate(1710.9 1239.2) scale(0.809 1)" font-size="26.9" fill="#1d1d1b" stroke="#1d1d1b" stroke-width="0.5">2</text>
<text transform="translate(1659.2 1391.5) scale(0.797 1)" font-size="40.3" fill="#1d1d1b" stroke="#1d1d1b" stroke-width="0.5">S16/6</text>
<text transform="translate(1517.3 372.8) scale(0.768 1)" font-size="35.7" fill="#1d1d1b" stroke="#1d1d1b" stroke-width="0.5">0,5</text>
<path d="M1499,301.7 L1533.8,301.7 M1568.7,301.7 L1533.8,301.7 M1568.7,301.7 L1568.7,400.7 M1568.7,499.7 L1568.7,400.7 M1568.7,499.7 L1533.8,499.7 M1499,499.7 L1533.8,499.7 M1499,499.7 L1499,400.7 M1499,301.7 L1499,400.7" fill="none" stroke="#1d1d1b" stroke-width="3" stroke-dasharray="18 8 5 8" stroke-linecap="round"/>
<text transform="translate(1515.7 461.2) scale(0.737 1)" font-size="33.1" fill="#1d1d1b" stroke="#1d1d1b" stroke-width="0.5">U91</text>
<polygon points="1492.2,557.7 1582.5,557.7 1585.5,565.4 1581.5,576.9 1585.5,588.4 1585.5,591 1581.5,602.5 1585.5,614 1582.5,621.7 1492.2,621.7" fill="#e4e4e4" stroke="none" stroke-width="2" />
<polyline points="1582.5,621.7 1492.2,621.7 1492.2,557.7 1582.5,557.7 1585.5,565.4 1581.5,576.9 1585.5,588.4 1585.5,591 1581.5,602.5 1585.5,614 1582.5,621.7" fill="none" stroke="#1d1d1b" stroke-width="2.4" stroke-linejoin="miter" />
<line x1="1573.3" y1="559.7" x2="1573.3" y2="619.7" stroke="#1d1d1b" stroke-width="2.6" stroke-dasharray="4 3"/>
<line x1="1544.8" y1="589.6" x2="1584.5" y2="589.6" stroke="#1d1d1b" stroke-width="3" />
<line x1="1536.8" y1="557.7" x2="1536.8" y2="581.6" stroke="#1d1d1b" stroke-width="3.2" />
<circle cx="1536.8" cy="589.6" r="8" fill="#fff" stroke="#1d1d1b" stroke-width="3"/>
<text transform="translate(1499.3 612) scale(0.864 1)" font-size="20.7" fill="#1d1d1b" stroke="#1d1d1b" stroke-width="0.5">54</text>
<text transform="translate(1440 661.5) scale(0.803 1)" font-size="38.2" fill="#1d1d1b" stroke="#1d1d1b" stroke-width="0.5">X21/1</text>
<text transform="translate(1987.2 430.7) scale(0.745 1)" font-size="35.7" fill="#1d1d1b" stroke="#1d1d1b" stroke-width="0.5">0,75</text>
<text transform="translate(1990.9 855.6) scale(0.781 1)" font-size="36.2" fill="#1d1d1b" stroke="#1d1d1b" stroke-width="0.5">1,5</text>
<polygon points="2012.6,599.3 2033.6,620.3 2012.6,641.3 1991.6,620.3" fill="#e4e4e4" stroke="#1d1d1b" stroke-width="3" stroke-linejoin="miter"/>
<line x1="2012.6" y1="599.3" x2="2012.6" y2="641.3" stroke="#1d1d1b" stroke-width="3" />
<circle cx="2012.6" cy="620.3" r="5.2" fill="#1d1d1b"/>
<text transform="translate(1910.7 667) scale(0.802 1)" font-size="37.9" fill="#1d1d1b" stroke="#1d1d1b" stroke-width="0.5">Z99/1</text>
<polygon points="1822.3,558.6 1913,558.6 1916,566.2 1912,577.7 1916,589.2 1916,591.7 1912,603.2 1916,614.7 1913,622.3 1822.3,622.3" fill="#e4e4e4" stroke="none" stroke-width="2" />
<polyline points="1913,622.3 1822.3,622.3 1822.3,558.6 1913,558.6 1916,566.2 1912,577.7 1916,589.2 1916,591.7 1912,603.2 1916,614.7 1913,622.3" fill="none" stroke="#1d1d1b" stroke-width="2.4" stroke-linejoin="miter" />
<line x1="1903" y1="560.6" x2="1903" y2="620.3" stroke="#1d1d1b" stroke-width="2.6" stroke-dasharray="4 3"/>
<line x1="1874.7" y1="591" x2="1915" y2="591" stroke="#1d1d1b" stroke-width="3" />
<line x1="1866.7" y1="599" x2="1866.7" y2="622.3" stroke="#1d1d1b" stroke-width="3.2" />
<circle cx="1866.7" cy="591" r="8" fill="#fff" stroke="#1d1d1b" stroke-width="3"/>
<text transform="translate(1831.4 586) scale(1.038 1)" font-size="31.4" fill="#1d1d1b" stroke="#1d1d1b" stroke-width="0.5">2</text>
<text transform="translate(1830.7 613.6) scale(0.846 1)" font-size="21.2" fill="#1d1d1b" stroke="#1d1d1b" stroke-width="0.5">15u</text>
<text transform="translate(1769 667.5) scale(0.846 1)" font-size="36.8" fill="#1d1d1b" stroke="#1d1d1b" stroke-width="0.5">X12/5</text>
<text transform="translate(1845.9 855.6) scale(0.745 1)" font-size="35.7" fill="#1d1d1b" stroke="#1d1d1b" stroke-width="0.5">0,75</text>
<path d="M1856,977 A12,12 0 0 1 1880,977" fill="none" stroke="#1d1d1b" stroke-width="3.5"/>
<text transform="translate(1836.6 981) scale(0.980 1)" font-size="24.9" fill="#1d1d1b" stroke="#1d1d1b" stroke-width="0.5">2</text>
<path d="M2001.4,977 A12,12 0 0 1 2025.4,977" fill="none" stroke="#1d1d1b" stroke-width="3.5"/>
<text transform="translate(1988.6 981) scale(0.855 1)" font-size="25.2" fill="#1d1d1b" stroke="#1d1d1b" stroke-width="0.5">4</text>
<path d="M2107.2,977 A12,12 0 0 1 2131.2,977" fill="none" stroke="#1d1d1b" stroke-width="3.5"/>
<text transform="translate(2090.6 981) scale(0.855 1)" font-size="25.2" fill="#1d1d1b" stroke="#1d1d1b" stroke-width="0.5">4</text>
<text transform="translate(1802.6 953.6) scale(0.901 1)" font-size="32.8" fill="#1d1d1b" stroke="#1d1d1b" stroke-width="0.5">D</text>
<text transform="translate(1956.9 951) scale(0.848 1)" font-size="34.3" fill="#1d1d1b" stroke="#1d1d1b" stroke-width="0.5">C</text>
<text transform="translate(2061.1 947.3) scale(0.834 1)" font-size="34.6" fill="#1d1d1b" stroke="#1d1d1b" stroke-width="0.5">B</text>
<line x1="1868" y1="979" x2="1868" y2="1312.2" stroke="#1d1d1b" stroke-width="3" />
<polygon points="1858,1031.4 1878,1031.4 1868,1049" fill="#1d1d1b" stroke="none" stroke-width="2" />
<line x1="1857" y1="1049.5" x2="1879" y2="1049.5" stroke="#1d1d1b" stroke-width="3" />
<circle cx="1868" cy="1071.2" r="5.5" fill="#1d1d1b"/>
<line x1="1868" y1="1071.2" x2="2177.4" y2="1071.2" stroke="#1d1d1b" stroke-width="3" />
<text transform="translate(1877 1024.6) scale(0.772 1)" font-size="27" fill="#1d1d1b" stroke="#1d1d1b" stroke-width="0.5">15UG</text>
<line x1="2013.4" y1="979" x2="2013.4" y2="1310.3" stroke="#1d1d1b" stroke-width="3" />
<text transform="translate(1985.1 1020.6) scale(0.850 1)" font-size="25.1" fill="#1d1d1b" stroke="#1d1d1b" stroke-width="0.5">87</text>
<text transform="translate(2023 1020.6) scale(0.802 1)" font-size="25.1" fill="#1d1d1b" stroke="#1d1d1b" stroke-width="0.5">ABS</text>
<circle cx="2013.4" cy="1051.7" r="5.5" fill="#1d1d1b"/>
<line x1="2013.4" y1="1051.7" x2="2170.7" y2="1051.7" stroke="#1d1d1b" stroke-width="3" />
<polyline points="2119.2,979 2119.2,1035.5 1979.5,1035.5 1979.5,1076" fill="none" stroke="#1d1d1b" stroke-width="3" stroke-linejoin="miter" />
<text transform="translate(2122.7 1023.3) scale(0.839 1)" font-size="25.1" fill="#1d1d1b" stroke="#1d1d1b" stroke-width="0.5">30z</text>
<path d="M1965,1089 A14.5,14.5 0 0 1 1994,1089" fill="none" stroke="#1d1d1b" stroke-width="3"/>
<line x1="1979.5" y1="1091" x2="1979.5" y2="1103" stroke="#1d1d1b" stroke-width="3" />
<rect x="1966.4" y="1103" width="29.8" height="57" fill="#fff5a3" stroke="#1d1d1b" stroke-width="2.6" />
<text transform="translate(1989.5 1131.5) rotate(-90) scale(0.85 1)" font-size="29" fill="#1d1d1b" text-anchor="middle">15</text>
<line x1="1979.5" y1="1160" x2="1979.5" y2="1172" stroke="#1d1d1b" stroke-width="3" />
<path d="M1965,1174 A14.5,14.5 0 0 0 1994,1174" fill="none" stroke="#1d1d1b" stroke-width="3"/>
<text transform="translate(1936.4 1145) scale(0.926 1)" font-size="25.4" fill="#1d1d1b" stroke="#1d1d1b" stroke-width="0.5">11</text>
<line x1="1981.5" y1="1193.7" x2="1981.5" y2="1248.5" stroke="#1d1d1b" stroke-width="3" />
<circle cx="1981.5" cy="1210" r="5.5" fill="#1d1d1b"/>
<line x1="1981.5" y1="1210" x2="2165" y2="1210" stroke="#1d1d1b" stroke-width="3" />
<path d="M1848.7,1221.2 L1946.6,1221.2 M2044.4,1221.2 L1946.6,1221.2 M2044.4,1221.2 L2044.4,1276 M2044.4,1330.7 L2044.4,1276 M2044.4,1330.7 L1946.6,1330.7 M1848.7,1330.7 L1946.6,1330.7 M1848.7,1330.7 L1848.7,1276 M1848.7,1221.2 L1848.7,1276" fill="none" stroke="#1d1d1b" stroke-width="3" stroke-dasharray="19 7.8" stroke-linecap="round"/>
<polyline points="1868,1312.2 1936.3,1312.2 1936.3,1169.4" fill="none" stroke="#1d1d1b" stroke-width="3" stroke-linejoin="miter" />
<line x1="1925.8" y1="1169.4" x2="1944.8" y2="1169.4" stroke="#1d1d1b" stroke-width="3" />
<circle cx="1868" cy="1242" r="5.5" fill="#1d1d1b"/>
<circle cx="1936.3" cy="1242" r="5.5" fill="#1d1d1b"/>
<line x1="1868" y1="1242" x2="1936.3" y2="1242" stroke="#1d1d1b" stroke-width="3" />
<rect x="1885" y="1234.5" width="35.5" height="15.3" fill="#fff5a3" stroke="#1d1d1b" stroke-width="2.6" />
<rect x="1918.7" y="1260" width="36.2" height="20.9" fill="#b0c5d2" stroke="#1d1d1b" stroke-width="2.6" />
<line x1="1921" y1="1279" x2="1952" y2="1262" stroke="#1d1d1b" stroke-width="2.6" />
<line x1="1954.9" y1="1267.6" x2="1985" y2="1267.6" stroke="#1d1d1b" stroke-width="2.2" />
<line x1="1954.9" y1="1274" x2="1985" y2="1274" stroke="#1d1d1b" stroke-width="2.2" />
<circle cx="1982" cy="1253" r="4.6" fill="#fff" stroke="#1d1d1b" stroke-width="2.8"/>
<circle cx="1982" cy="1292.9" r="4.6" fill="#fff" stroke="#1d1d1b" stroke-width="2.8"/>
<line x1="1984" y1="1258" x2="1997" y2="1291" stroke="#1d1d1b" stroke-width="4.6" />
<polyline points="1982,1297.5 1982,1310.3 2013.4,1310.3" fill="none" stroke="#1d1d1b" stroke-width="3" stroke-linejoin="miter" />
<text transform="translate(1908.3 1384.9) scale(0.816 1)" font-size="37.6" fill="#1d1d1b" stroke="#1d1d1b" stroke-width="0.5">k5</text>
<text transform="translate(2016.4 1384.9) scale(0.761 1)" font-size="38.7" fill="#1d1d1b" stroke="#1d1d1b" stroke-width="0.5">K40</text>
<text transform="translate(2195 1114) scale(0.857 1)" font-size="32.9" fill="#1d1d1b" stroke="#1d1d1b" stroke-width="0.5">2,5</text>
<polygon points="2218.5,1256.5 2303,1256.5 2306.6,1268 2303,1285 2306.6,1300 2303,1320 2306.6,1335 2303,1346.5 2218.5,1346.5" fill="#c6e8fa" stroke="none" stroke-width="2" />
<path d="M2218.5,1346.5 L2218.5,1301.5 M2218.5,1256.5 L2218.5,1301.5 M2218.5,1256.5 L2260.8,1256.5 M2303,1256.5 L2260.8,1256.5 M2303,1256.5 L2304.8,1262.2 M2306.6,1268 L2304.8,1262.2 M2306.6,1268 L2304.8,1276.5 M2303,1285 L2304.8,1276.5 M2303,1285 L2304.8,1292.5 M2306.6,1300 L2304.8,1292.5 M2306.6,1300 L2304.8,1310 M2303,1320 L2304.8,1310 M2303,1320 L2304.8,1327.5 M2306.6,1335 L2304.8,1327.5 M2306.6,1335 L2304.8,1340.8 M2303,1346.5 L2304.8,1340.8 M2303,1346.5 L2260.8,1346.5 M2218.5,1346.5 L2260.8,1346.5" fill="none" stroke="#1d1d1b" stroke-width="3" stroke-dasharray="19 7.8" stroke-linecap="round"/>
<line x1="2209" y1="1233" x2="2238.5" y2="1253.5" stroke="#1d1d1b" stroke-width="4.6" />
<circle cx="2207.4" cy="1231.5" r="4.8" fill="#fff" stroke="#1d1d1b" stroke-width="2.8"/>
<circle cx="2240.5" cy="1255.4" r="4.8" fill="#fff" stroke="#1d1d1b" stroke-width="2.8"/>
<polyline points="2240.5,1260 2240.5,1300.6 2256.3,1300.6" fill="none" stroke="#1d1d1b" stroke-width="3" stroke-linejoin="miter" />
<line x1="2256.3" y1="1287.8" x2="2256.3" y2="1314.5" stroke="#1d1d1b" stroke-width="3.5" />
<line x1="2263.7" y1="1293.6" x2="2263.7" y2="1309.8" stroke="#1d1d1b" stroke-width="5" />
<line x1="2263.7" y1="1300.6" x2="2297.3" y2="1300.6" stroke="#1d1d1b" stroke-width="3" />
<text transform="translate(2218.3 1220.6) scale(0.845 1)" font-size="26.6" fill="#1d1d1b" stroke="#1d1d1b" stroke-width="0.5">3</text>
<text transform="translate(2250.7 1247) scale(1.047 1)" font-size="24.3" fill="#1d1d1b" stroke="#1d1d1b" stroke-width="0.5">2</text>
<text transform="translate(2242.6 1384.9) scale(0.696 1)" font-size="38.7" fill="#1d1d1b" stroke="#1d1d1b" stroke-width="0.5">G1</text>
<path d="M2385.3,1165.5 A12,12 0 0 1 2409.3,1165.5" fill="none" stroke="#1d1d1b" stroke-width="3.5"/>
<line x1="2397.3" y1="1156" x2="2397.3" y2="1188.7" stroke="#1d1d1b" stroke-width="3" />
<rect x="2383" y="1188.7" width="29.2" height="56.1" fill="#fff5a3" stroke="#1d1d1b" stroke-width="2.6" />
<text transform="translate(2405.5 1216.8) rotate(-90) scale(0.85 1)" font-size="28" fill="#1d1d1b" text-anchor="middle">15</text>
<line x1="2397.3" y1="1244.8" x2="2397.3" y2="1271" stroke="#1d1d1b" stroke-width="3" />
<polyline points="2408.5,1157.4 2420,1157.4 2420,1190.5 2532.2,1190.5" fill="none" stroke="#1d1d1b" stroke-width="3" stroke-linejoin="miter" />
<path d="M2466,1165.5 A12,12 0 0 1 2490,1165.5" fill="none" stroke="#1d1d1b" stroke-width="3.5"/>
<line x1="2478" y1="1156" x2="2478" y2="1271" stroke="#1d1d1b" stroke-width="3" />
<circle cx="2478" cy="1190.5" r="5.5" fill="#1d1d1b"/>
<text transform="translate(2353.4 1229) scale(0.793 1)" font-size="26.1" fill="#1d1d1b" stroke="#1d1d1b" stroke-width="0.5">15</text>
<text transform="translate(2419.8 1216) scale(0.892 1)" font-size="24.6" fill="#1d1d1b" stroke="#1d1d1b" stroke-width="0.5">15</text>
<text transform="translate(2358.4 1316.6) scale(0.771 1)" font-size="30.3" fill="#1d1d1b" stroke="#1d1d1b" stroke-width="0.5">15E</text>
<text transform="translate(2422 1385.4) scale(0.661 1)" font-size="39.4" fill="#1d1d1b" stroke="#1d1d1b" stroke-width="0.5">F1</text>
<text transform="translate(2415.5 1132.5) scale(0.850 1)" font-size="31.6" fill="#1d1d1b" stroke="#1d1d1b" stroke-width="0.5">15C</text>
<text transform="translate(2569.6 1068.7) scale(0.823 1)" font-size="33.1" fill="#1d1d1b" stroke="#1d1d1b" stroke-width="0.5">0,5</text>
<path d="M2578.4,1245 A12,12 0 0 1 2602.4,1245" fill="none" stroke="#1d1d1b" stroke-width="3.5"/>
<path d="M2633.2,1245 A12,12 0 0 1 2657.2,1245" fill="none" stroke="#1d1d1b" stroke-width="3.5"/>
<polyline points="2590.4,1235 2590.4,1285.7 2609,1285.7" fill="none" stroke="#1d1d1b" stroke-width="3" stroke-linejoin="miter" />
<polyline points="2645.2,1235 2645.2,1285.7 2626,1285.7" fill="none" stroke="#1d1d1b" stroke-width="3" stroke-linejoin="miter" />
<rect x="2609" y="1272" width="17" height="28" fill="#b0c5d2" stroke="#1d1d1b" stroke-width="2.6" />
<line x1="2610.5" y1="1294" x2="2624.5" y2="1278" stroke="#1d1d1b" stroke-width="2.4" />
<line x1="2614" y1="1300" x2="2614" y2="1321" stroke="#1d1d1b" stroke-width="2.4" />
<line x1="2621" y1="1300" x2="2621" y2="1321" stroke="#1d1d1b" stroke-width="2.4" />
<line x1="2610" y1="1321" x2="2625" y2="1321" stroke="#1d1d1b" stroke-width="3.4" />
<text transform="translate(2567.7 1237.4) scale(0.581 1)" font-size="24.6" fill="#1d1d1b" stroke="#1d1d1b" stroke-width="0.5">1</text>
<text transform="translate(2616.5 1237.4) scale(0.985 1)" font-size="24.3" fill="#1d1d1b" stroke="#1d1d1b" stroke-width="0.5">2</text>
<text transform="translate(2573.3 1380) scale(0.711 1)" font-size="40.3" fill="#1d1d1b" stroke="#1d1d1b" stroke-width="0.5">Y66/1</text>
<text transform="translate(2624.4 1123) scale(0.745 1)" font-size="35.7" fill="#1d1d1b" stroke="#1d1d1b" stroke-width="0.5">0,75</text>
<text transform="translate(2717.7 431) scale(0.745 1)" font-size="35.7" fill="#1d1d1b" stroke="#1d1d1b" stroke-width="0.5">0,35</text>
<line x1="2743.5" y1="791.5" x2="2743.5" y2="811" stroke="#1d1d1b" stroke-width="3" />
<path d="M2731.5,809 A12,12 0 0 0 2755.5,809" fill="none" stroke="#1d1d1b" stroke-width="3.5"/>
<text transform="translate(2719.7 1123) scale(0.745 1)" font-size="35.7" fill="#1d1d1b" stroke="#1d1d1b" stroke-width="0.5">0,35</text>
<text transform="translate(2711.1 830.5) scale(0.909 1)" font-size="25.1" fill="#1d1d1b" stroke="#1d1d1b" stroke-width="0.5">3</text>
<text transform="translate(2667.2 879.4) scale(0.755 1)" font-size="37.7" fill="#1d1d1b" stroke="#1d1d1b" stroke-width="0.5">X25</text>
<path d="M2731.2,1319 A12,12 0 0 1 2755.2,1319" fill="none" stroke="#1d1d1b" stroke-width="3.5"/>
<text transform="translate(2706.5 1310.4) scale(0.791 1)" font-size="26.3" fill="#1d1d1b" stroke="#1d1d1b" stroke-width="0.5">10</text>
<text transform="translate(2695.9 1379.2) scale(0.844 1)" font-size="39.2" fill="#1d1d1b" stroke="#1d1d1b" stroke-width="0.5">X11/4</text>
<path d="M2797.9,589.9 L2893.7,589.9 M2989.5,589.9 L2893.7,589.9 M2989.5,589.9 L2989.5,1008 M2989.5,1426.2 L2989.5,1008 M2989.5,1426.2 L2893.7,1426.2 M2797.9,1426.2 L2893.7,1426.2 M2797.9,1426.2 L2797.9,1008 M2797.9,589.9 L2797.9,1008" fill="none" stroke="#1d1d1b" stroke-width="3" stroke-dasharray="18 8 5 8" stroke-linecap="round"/>
<text transform="translate(2810.5 634) scale(0.903 1)" font-size="33.3" fill="#1d1d1b" stroke="#1d1d1b" stroke-width="0.5">U74</text>
<text transform="translate(2910.7 714.5) scale(0.811 1)" font-size="33.1" fill="#1d1d1b" stroke="#1d1d1b" stroke-width="0.5">0,5</text>
<line x1="2933.2" y1="791.5" x2="2933.2" y2="811" stroke="#1d1d1b" stroke-width="3" />
<path d="M2921.2,809 A12,12 0 0 0 2945.2,809" fill="none" stroke="#1d1d1b" stroke-width="3.5"/>
<text transform="translate(2909.4 1123) scale(0.745 1)" font-size="35.7" fill="#1d1d1b" stroke="#1d1d1b" stroke-width="0.5">0,35</text>
<text transform="translate(2902.8 830.5) scale(0.677 1)" font-size="25.5" fill="#1d1d1b" stroke="#1d1d1b" stroke-width="0.5">1</text>
<text transform="translate(2831.8 879.4) scale(0.819 1)" font-size="36.7" fill="#1d1d1b" stroke="#1d1d1b" stroke-width="0.5">X25/7</text>
<path d="M2921.2,1245 A12,12 0 0 1 2945.2,1245" fill="none" stroke="#1d1d1b" stroke-width="3.5"/>
<line x1="2933.2" y1="1235" x2="2933.2" y2="1264" stroke="#1d1d1b" stroke-width="3" />
<text transform="translate(2893.7 1238.7) scale(0.896 1)" font-size="24.3" fill="#1d1d1b" stroke="#1d1d1b" stroke-width="0.5">27</text>
<text transform="translate(2914.2 1283) scale(0.755 1)" font-size="24.3" fill="#1d1d1b" stroke="#1d1d1b" stroke-width="0.5">EGS</text>
<circle cx="2934" cy="1314.4" r="22" fill="#a9c4d4" stroke="#1d1d1b" stroke-width="3"/>
<line x1="2902.9" y1="1314.4" x2="2928.5" y2="1314.4" stroke="#1d1d1b" stroke-width="3" />
<line x1="2928.5" y1="1302.5" x2="2928.5" y2="1327.3" stroke="#1d1d1b" stroke-width="3.2" />
<line x1="2928.5" y1="1308.7" x2="2945" y2="1296.9" stroke="#1d1d1b" stroke-width="2.6" />
<line x1="2945" y1="1300.2" x2="2945" y2="1287.4" stroke="#1d1d1b" stroke-width="3" />
<line x1="2928.5" y1="1320.1" x2="2945" y2="1331.9" stroke="#1d1d1b" stroke-width="2.6" />
<line x1="2945" y1="1328.6" x2="2945" y2="1341.4" stroke="#1d1d1b" stroke-width="3" />
<polygon points="2944.1,1331.3 2936.5,1330.1 2940.7,1324.2" fill="#1d1d1b"/>
<text transform="translate(2901.5 1382.8) scale(1.065 1)" font-size="29" fill="#1d1d1b" stroke="#1d1d1b" stroke-width="0.5">N3/7</text>
<text transform="translate(2891.1 1416.1) scale(1.125 1)" font-size="28" fill="#1d1d1b" stroke="#1d1d1b" stroke-width="0.5">(N3/8)</text>
<text transform="translate(3043.1 431) scale(0.768 1)" font-size="35.7" fill="#1d1d1b" stroke="#1d1d1b" stroke-width="0.5">0,5</text>
<path d="M3052,1216.8 A12,12 0 0 1 3076,1216.8" fill="none" stroke="#1d1d1b" stroke-width="3.5"/>
<path d="M3149,1216.8 A12,12 0 0 1 3173,1216.8" fill="none" stroke="#1d1d1b" stroke-width="3.5"/>
<text transform="translate(3000 1178.5) scale(0.757 1)" font-size="35.5" fill="#1d1d1b" stroke="#1d1d1b" stroke-width="0.5">A</text>
<text transform="translate(3100.7 1178.5) scale(0.944 1)" font-size="35.5" fill="#1d1d1b" stroke="#1d1d1b" stroke-width="0.5">B</text>
<text transform="translate(3036.7 1213) scale(0.829 1)" font-size="25.7" fill="#1d1d1b" stroke="#1d1d1b" stroke-width="0.5">2</text>
<text transform="translate(3133.5 1213) scale(0.837 1)" font-size="25.7" fill="#1d1d1b" stroke="#1d1d1b" stroke-width="0.5">2</text>
<polyline points="3064,1207 3064,1313.8 3105,1313.8" fill="none" stroke="#1d1d1b" stroke-width="3" stroke-linejoin="miter" />
<polyline points="3161,1207 3161,1313.8 3126.4,1313.8" fill="none" stroke="#1d1d1b" stroke-width="3" stroke-linejoin="miter" />
<rect x="3105" y="1298.4" width="21.4" height="32.8" fill="#b0c5d2" stroke="#1d1d1b" stroke-width="2.6" />
<line x1="3106.5" y1="1322" x2="3125" y2="1306" stroke="#1d1d1b" stroke-width="2.4" />
<line x1="3113.3" y1="1298.4" x2="3113.3" y2="1256" stroke="#1d1d1b" stroke-width="2.4" />
<line x1="3118.3" y1="1298.4" x2="3118.3" y2="1256" stroke="#1d1d1b" stroke-width="2.4" />
<circle cx="3064" cy="1264" r="5.5" fill="#1d1d1b"/>
<line x1="3064" y1="1264" x2="3090.5" y2="1264" stroke="#1d1d1b" stroke-width="3" />
<circle cx="3095.2" cy="1264" r="4.8" fill="#fff" stroke="#1d1d1b" stroke-width="2.8"/>
<line x1="3099" y1="1261" x2="3133" y2="1250.5" stroke="#1d1d1b" stroke-width="4.6" />
<circle cx="3134.6" cy="1264" r="4.8" fill="#fff" stroke="#1d1d1b" stroke-width="2.8"/>
<line x1="3139.4" y1="1264" x2="3188.8" y2="1264" stroke="#1d1d1b" stroke-width="3" />
<text transform="translate(3058.7 1382.2) scale(0.788 1)" font-size="39.2" fill="#1d1d1b" stroke="#1d1d1b" stroke-width="0.5">N65 k2</text>
<text transform="translate(3351.1 1072.2) scale(0.833 1)" font-size="33.1" fill="#1d1d1b" stroke="#1d1d1b" stroke-width="0.5">2,5</text>
<text transform="translate(3257 1122.7) scale(0.929 1)" font-size="28.1" fill="#1d1d1b" stroke="#1d1d1b" stroke-width="0.5">0,5</text>
<text transform="translate(3205.9 1226) scale(0.927 1)" font-size="35.5" fill="#1d1d1b" stroke="#1d1d1b" stroke-width="0.5">E</text>
<path d="M3267.1,1244.7 A12,12 0 0 1 3291.1,1244.7" fill="none" stroke="#1d1d1b" stroke-width="3.5"/>
<line x1="3279.1" y1="1235" x2="3279.1" y2="1262" stroke="#1d1d1b" stroke-width="3" />
<text transform="translate(3249.7 1239) scale(0.989 1)" font-size="25.7" fill="#1d1d1b" stroke="#1d1d1b" stroke-width="0.5">2</text>
<circle cx="3279.1" cy="1313.2" r="20.4" fill="#a9c4d4" stroke="#1d1d1b" stroke-width="3"/>
<line x1="3250.3" y1="1313.2" x2="3274" y2="1313.2" stroke="#1d1d1b" stroke-width="3" />
<line x1="3274" y1="1302.2" x2="3274" y2="1325.2" stroke="#1d1d1b" stroke-width="3.2" />
<line x1="3274" y1="1307.9" x2="3289.3" y2="1296.9" stroke="#1d1d1b" stroke-width="2.6" />
<line x1="3289.3" y1="1300" x2="3289.3" y2="1288.1" stroke="#1d1d1b" stroke-width="3" />
<line x1="3274" y1="1318.5" x2="3289.3" y2="1329.5" stroke="#1d1d1b" stroke-width="2.6" />
<line x1="3289.3" y1="1326.4" x2="3289.3" y2="1338.3" stroke="#1d1d1b" stroke-width="3" />
<polygon points="3288.4,1328.9 3281.4,1327.8 3285.3,1322.3" fill="#1d1d1b"/>
<text transform="translate(3243 1383.3) scale(0.920 1)" font-size="33" fill="#1d1d1b" stroke="#1d1d1b" stroke-width="0.5">N7-1</text>
<path d="M3362.4,1190.5 A12,12 0 0 1 3386.4,1190.5" fill="none" stroke="#1d1d1b" stroke-width="3.5"/>
<text transform="translate(3349.2 1234.4) scale(0.737 1)" font-size="21.1" fill="#1d1d1b" stroke="#1d1d1b" stroke-width="0.5">50</text>
<text transform="translate(3376.2 1234.4) scale(0.516 1)" font-size="21.4" fill="#1d1d1b" stroke="#1d1d1b" stroke-width="0.5">15X</text>
<text transform="translate(3436.3 1234.4) scale(0.730 1)" font-size="21.1" fill="#1d1d1b" stroke="#1d1d1b" stroke-width="0.5">30</text>
<text transform="translate(3493.5 1234.4) scale(0.752 1)" font-size="21.1" fill="#1d1d1b" stroke="#1d1d1b" stroke-width="0.5">30</text>
<path d="M3374.4,1189 C3375,1240 3380,1275 3396.7,1305.5" fill="none" stroke="#1d1d1b" stroke-width="2.8"/>
<path d="M3402.4,1191.5 C3403,1245 3412,1282 3439.2,1304.6" fill="none" stroke="#1d1d1b" stroke-width="2.8"/>
<path d="M3429.5,1202.2 C3430,1262 3443,1275.5 3460,1275.5 C3480,1275.5 3489.4,1262 3489.4,1201.2" fill="none" stroke="#1d1d1b" stroke-width="2.8"/>
<path d="M3429.5,1328.7 C3455,1340 3497,1336 3523.2,1304.6" fill="none" stroke="#1d1d1b" stroke-width="2.8"/>
<path d="M3349.3,1317.1 L3455,1255" fill="none" stroke="#1d1d1b" stroke-width="2.8" stroke-dasharray="12 7"/>
<path d="M3407.3,1337.4 L3456,1258" fill="none" stroke="#1d1d1b" stroke-width="2.8" stroke-dasharray="12 7"/>
<path d="M3458.5,1258 L3458.5,1341" fill="none" stroke="#1d1d1b" stroke-width="2.8" stroke-dasharray="12 7"/>
<line x1="3462" y1="1252.6" x2="3523.2" y2="1252.6" stroke="#1d1d1b" stroke-width="4.6" />
<circle cx="3458.5" cy="1253.4" r="4.8" fill="#fff" stroke="#1d1d1b" stroke-width="2.8"/>
<text transform="translate(3412.1 1382.2) scale(0.782 1)" font-size="40.3" fill="#1d1d1b" stroke="#1d1d1b" stroke-width="0.5">S2</text>
<text transform="translate(3239.2 372) scale(0.623 1)" font-size="33.1" fill="#1d1d1b" stroke="#1d1d1b" stroke-width="0.5">0,75</text>
<text transform="translate(3310.4 372) scale(0.623 1)" font-size="33.1" fill="#1d1d1b" stroke="#1d1d1b" stroke-width="0.5">0,75</text>
<path d="M3229.5,302.2 L3257.2,302.2 M3284.8,302.2 L3257.2,302.2 M3284.8,302.2 L3284.8,400.9 M3284.8,499.6 L3284.8,400.9 M3284.8,499.6 L3257.2,499.6 M3229.5,499.6 L3257.2,499.6 M3229.5,499.6 L3229.5,400.9 M3229.5,302.2 L3229.5,400.9" fill="none" stroke="#1d1d1b" stroke-width="3" stroke-dasharray="18 8 5 8" stroke-linecap="round"/>
<path d="M3300.3,302.2 L3328.7,302.2 M3357.1,302.2 L3328.7,302.2 M3357.1,302.2 L3357.1,400.9 M3357.1,499.6 L3357.1,400.9 M3357.1,499.6 L3328.7,499.6 M3300.3,499.6 L3328.7,499.6 M3300.3,499.6 L3300.3,400.9 M3300.3,302.2 L3300.3,400.9" fill="none" stroke="#1d1d1b" stroke-width="3" stroke-dasharray="18 8 5 8" stroke-linecap="round"/>
<text transform="translate(3239.8 460.6) scale(0.643 1)" font-size="33.7" fill="#1d1d1b" stroke="#1d1d1b" stroke-width="0.5">U12</text>
<text transform="translate(3310.5 460.6) scale(0.643 1)" font-size="33.7" fill="#1d1d1b" stroke="#1d1d1b" stroke-width="0.5">U13</text>
<line x1="3242.4" y1="628.8" x2="3278" y2="628.8" stroke="#1d1d1b" stroke-width="5.2" />
<line x1="3315" y1="570" x2="3350.6" y2="570" stroke="#1d1d1b" stroke-width="5.2" />
<text transform="translate(3290.3 611) scale(0.879 1)" font-size="34.7" fill="#1d1d1b" stroke="#1d1d1b" stroke-width="0.5">W15/2</text>
<text transform="translate(3225.4 672.7) scale(0.872 1)" font-size="34.3" fill="#1d1d1b" stroke="#1d1d1b" stroke-width="0.5">W15/1</text></g></svg></body></html>
